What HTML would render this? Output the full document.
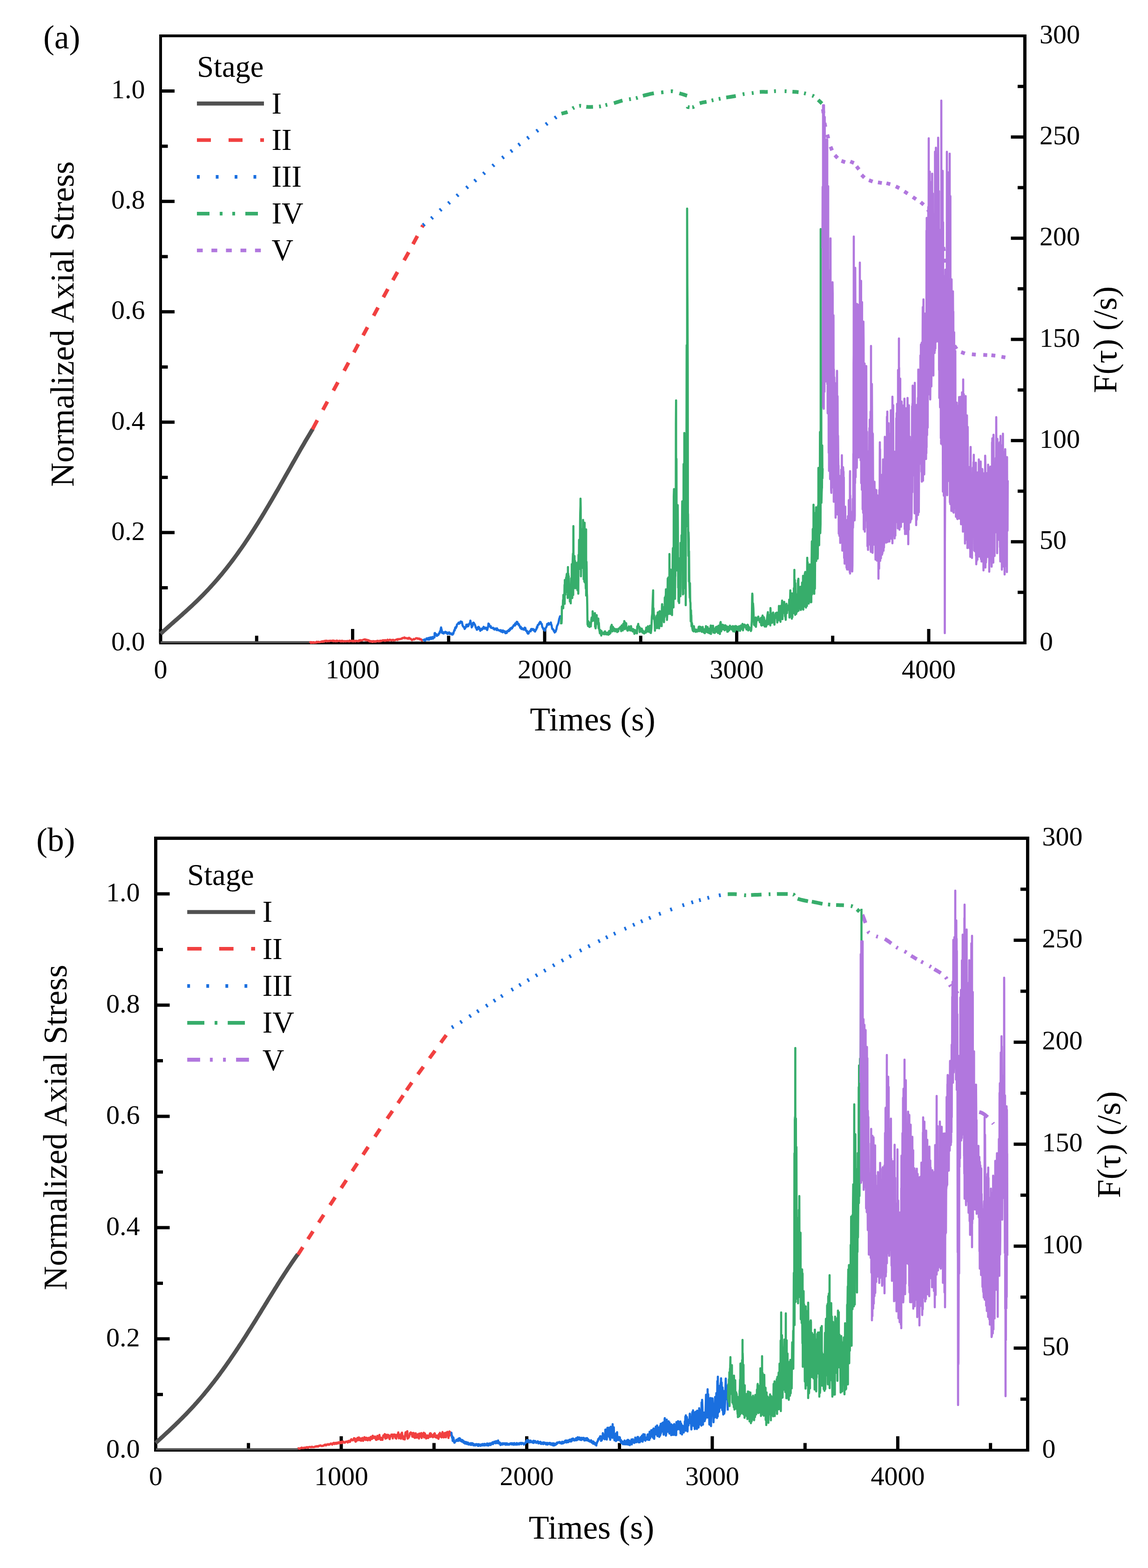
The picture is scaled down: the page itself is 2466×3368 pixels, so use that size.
<!DOCTYPE html>
<html><head><meta charset="utf-8"><title>Figure</title>
<style>html,body{margin:0;padding:0;background:#fff;}svg{display:block;}</style>
</head><body>
<svg xmlns="http://www.w3.org/2000/svg" width="2466" height="3368" viewBox="0 0 2466 3368">
<rect width="2466" height="3368" fill="#fff"/>
<g fill="#000"><rect x="341.5" y="1351" width="7" height="30"/><rect x="547.8" y="1365.5" width="7" height="15.5"/><rect x="754" y="1351" width="7" height="30"/><rect x="960.2" y="1365.5" width="7" height="15.5"/><rect x="1166.5" y="1351" width="7" height="30"/><rect x="1372.8" y="1365.5" width="7" height="15.5"/><rect x="1579" y="1351" width="7" height="30"/><rect x="1785.2" y="1365.5" width="7" height="15.5"/><rect x="1991.5" y="1351" width="7" height="30"/><rect x="345" y="1259" width="15.5" height="7"/><rect x="345" y="1140.4" width="30" height="7"/><rect x="345" y="1021.9" width="15.5" height="7"/><rect x="345" y="903.3" width="30" height="7"/><rect x="345" y="784.8" width="15.5" height="7"/><rect x="345" y="666.2" width="30" height="7"/><rect x="345" y="547.7" width="15.5" height="7"/><rect x="345" y="429.1" width="30" height="7"/><rect x="345" y="310.6" width="15.5" height="7"/><rect x="345" y="192" width="30" height="7"/><rect x="2186" y="1268.8" width="15.5" height="7"/><rect x="2171.5" y="1160.2" width="30" height="7"/><rect x="2186" y="1051.5" width="15.5" height="7"/><rect x="2171.5" y="942.8" width="30" height="7"/><rect x="2186" y="834.2" width="15.5" height="7"/><rect x="2171.5" y="725.5" width="30" height="7"/><rect x="2186" y="616.8" width="15.5" height="7"/><rect x="2171.5" y="508.2" width="30" height="7"/><rect x="2186" y="399.5" width="15.5" height="7"/><rect x="2171.5" y="290.8" width="30" height="7"/><rect x="2186" y="182.2" width="15.5" height="7"/><rect x="342" y="74" width="6" height="1310"/><rect x="2198" y="74" width="7" height="1310"/><rect x="342" y="74" width="1863" height="6"/><rect x="342" y="1378" width="1863" height="6"/></g>
<g font-family="Liberation Serif, Times New Roman, serif" font-size="58" fill="#000"><text x="345" y="1456.5" text-anchor="middle">0</text><text x="757.5" y="1456.5" text-anchor="middle">1000</text><text x="1170" y="1456.5" text-anchor="middle">2000</text><text x="1582.5" y="1456.5" text-anchor="middle">3000</text><text x="1995" y="1456.5" text-anchor="middle">4000</text><text x="311.5" y="1396.7" text-anchor="end">0.0</text><text x="311.5" y="1159.6" text-anchor="end">0.2</text><text x="311.5" y="922.5" text-anchor="end">0.4</text><text x="311.5" y="685.4" text-anchor="end">0.6</text><text x="311.5" y="448.3" text-anchor="end">0.8</text><text x="311.5" y="211.2" text-anchor="end">1.0</text><text x="2233" y="1396.7">0</text><text x="2233" y="1179.4">50</text><text x="2233" y="962">100</text><text x="2233" y="744.7">150</text><text x="2233" y="527.4">200</text><text x="2233" y="310">250</text><text x="2233" y="92.7">300</text></g>
<g font-family="Liberation Serif, Times New Roman, serif" font-size="71.5" fill="#000"><text x="1273" y="1569" text-anchor="middle">Times (s)</text><text transform="translate(157.5 695.9) rotate(-90)" text-anchor="middle">Normalized Axial Stress</text><text transform="translate(2398 729.5) rotate(-90)" text-anchor="middle">F(&#964;) (/s)</text><text x="93" y="104">(a)</text></g>
<g font-family="Liberation Serif, Times New Roman, serif" font-size="64.5" fill="#000"><text x="423.2" y="165">Stage</text><text x="583.5" y="244">I</text><text x="583.5" y="322">II</text><text x="583.5" y="400.8">III</text><text x="583.5" y="480">IV</text><text x="583.5" y="559">V</text></g>
<line x1="423" y1="222.4" x2="567" y2="222.4" stroke="#515151" stroke-width="8.6"/>
<line x1="423" y1="300.8" x2="567" y2="300.8" stroke="#F14040" stroke-width="7.8" stroke-dasharray="30 38"/>
<line x1="423" y1="379.9" x2="567" y2="379.9" stroke="#1A6FDF" stroke-width="7.8" stroke-dasharray="6 34.5"/>
<line x1="423" y1="458.9" x2="567" y2="458.9" stroke="#37AD6B" stroke-width="7.8" stroke-dasharray="27 22 6 21 6 22"/>
<line x1="423" y1="537.8" x2="567" y2="537.8" stroke="#B177DE" stroke-width="7.8" stroke-dasharray="12.5 18.7"/>
<g fill="#000"><rect x="331" y="3085" width="7" height="30"/><rect x="530.2" y="3099.5" width="7" height="15.5"/><rect x="729.5" y="3085" width="7" height="30"/><rect x="928.8" y="3099.5" width="7" height="15.5"/><rect x="1128" y="3085" width="7" height="30"/><rect x="1327.2" y="3099.5" width="7" height="15.5"/><rect x="1526.5" y="3085" width="7" height="30"/><rect x="1725.8" y="3099.5" width="7" height="15.5"/><rect x="1925" y="3085" width="7" height="30"/><rect x="2124.2" y="3099.5" width="7" height="15.5"/><rect x="334.5" y="2991.8" width="15.5" height="7"/><rect x="334.5" y="2872.3" width="30" height="7"/><rect x="334.5" y="2752.9" width="15.5" height="7"/><rect x="334.5" y="2633.4" width="30" height="7"/><rect x="334.5" y="2513.9" width="15.5" height="7"/><rect x="334.5" y="2394.4" width="30" height="7"/><rect x="334.5" y="2274.9" width="15.5" height="7"/><rect x="334.5" y="2155.5" width="30" height="7"/><rect x="334.5" y="2036" width="15.5" height="7"/><rect x="334.5" y="1916.5" width="30" height="7"/><rect x="2192" y="3001.8" width="15.5" height="7"/><rect x="2177.5" y="2892.2" width="30" height="7"/><rect x="2192" y="2782.7" width="15.5" height="7"/><rect x="2177.5" y="2673.2" width="30" height="7"/><rect x="2192" y="2563.7" width="15.5" height="7"/><rect x="2177.5" y="2454.2" width="30" height="7"/><rect x="2192" y="2344.6" width="15.5" height="7"/><rect x="2177.5" y="2235.1" width="30" height="7"/><rect x="2192" y="2125.6" width="15.5" height="7"/><rect x="2177.5" y="2016.1" width="30" height="7"/><rect x="2192" y="1906.5" width="15.5" height="7"/><rect x="331" y="1797" width="7" height="1321"/><rect x="2204" y="1797" width="7" height="1321"/><rect x="331" y="1797" width="1880" height="7"/><rect x="331" y="3112" width="1880" height="6"/></g>
<g font-family="Liberation Serif, Times New Roman, serif" font-size="58" fill="#000"><text x="334.5" y="3190" text-anchor="middle">0</text><text x="733" y="3190" text-anchor="middle">1000</text><text x="1131.5" y="3190" text-anchor="middle">2000</text><text x="1530" y="3190" text-anchor="middle">3000</text><text x="1928.5" y="3190" text-anchor="middle">4000</text><text x="300.5" y="3130.5" text-anchor="end">0.0</text><text x="300.5" y="2891.5" text-anchor="end">0.2</text><text x="300.5" y="2652.6" text-anchor="end">0.4</text><text x="300.5" y="2413.6" text-anchor="end">0.6</text><text x="300.5" y="2174.7" text-anchor="end">0.8</text><text x="300.5" y="1935.7" text-anchor="end">1.0</text><text x="2238.5" y="3130.5">0</text><text x="2238.5" y="2911.4">50</text><text x="2238.5" y="2692.4">100</text><text x="2238.5" y="2473.3">150</text><text x="2238.5" y="2254.3">200</text><text x="2238.5" y="2035.3">250</text><text x="2238.5" y="1816.2">300</text></g>
<g font-family="Liberation Serif, Times New Roman, serif" font-size="71.5" fill="#000"><text x="1270.5" y="3305.3" text-anchor="middle">Times (s)</text><text transform="translate(143 2421.7) rotate(-90)" text-anchor="middle">Normalized Axial Stress</text><text transform="translate(2405.8 2458.5) rotate(-90)" text-anchor="middle">F(&#964;) (/s)</text><text x="78" y="1827.6">(b)</text></g>
<g font-family="Liberation Serif, Times New Roman, serif" font-size="64.5" fill="#000"><text x="402.3" y="1900.7">Stage</text><text x="563.7" y="1979.8">I</text><text x="563.7" y="2059.7">II</text><text x="563.7" y="2139">III</text><text x="563.7" y="2218">IV</text><text x="563.7" y="2298.8">V</text></g>
<line x1="402.2" y1="1959" x2="548" y2="1959" stroke="#515151" stroke-width="8.6"/>
<line x1="402.2" y1="2037.9" x2="548" y2="2037.9" stroke="#F14040" stroke-width="7.8" stroke-dasharray="30.8 37.8"/>
<line x1="402.2" y1="2117.8" x2="548" y2="2117.8" stroke="#1A6FDF" stroke-width="7.8" stroke-dasharray="6 35"/>
<line x1="402.2" y1="2197" x2="548" y2="2197" stroke="#37AD6B" stroke-width="7.8" stroke-dasharray="36.8 22 6 22.2"/>
<line x1="402.2" y1="2276.3" x2="548" y2="2276.3" stroke="#B177DE" stroke-width="8.4" stroke-dasharray="27.7 21 6 22.2 6 22"/>
<polyline points="345,1361.4 348.3,1358.4 351.5,1355.4 354.8,1352.4 358.1,1349.5 361.4,1346.6 364.6,1343.7 367.9,1340.8 371.2,1337.9 374.4,1335 377.7,1332.1 381,1329.3 384.2,1326.4 387.5,1323.5 390.8,1320.6 394.1,1317.6 397.3,1314.7 400.6,1311.7 403.9,1308.8 407.1,1305.8 410.4,1302.7 413.7,1299.7 416.9,1296.6 420.2,1293.5 423.5,1290.3 426.8,1287.1 430,1283.9 433.3,1280.6 436.6,1277.3 439.8,1273.9 443.1,1270.5 446.4,1267.1 449.6,1263.6 452.9,1260 456.2,1256.4 459.4,1252.8 462.7,1249.1 466,1245.3 469.3,1241.5 472.5,1237.7 475.8,1233.8 479.1,1229.8 482.3,1225.8 485.6,1221.7 488.9,1217.5 492.1,1213.3 495.4,1209.1 498.7,1204.8 502,1200.4 505.2,1196 508.5,1191.5 511.8,1186.9 515,1182.3 518.3,1177.7 521.6,1173 524.9,1168.2 528.1,1163.4 531.4,1158.5 534.7,1153.5 537.9,1148.6 541.2,1143.5 544.5,1138.4 547.7,1133.3 551,1128.1 554.3,1122.9 557.5,1117.6 560.8,1112.3 564.1,1106.9 567.4,1101.5 570.6,1096.1 573.9,1090.6 577.2,1085.1 580.4,1079.5 583.7,1074 587,1068.3 590.2,1062.7 593.5,1057 596.8,1051.4 600.1,1045.6 603.3,1039.9 606.6,1034.2 609.9,1028.4 613.1,1022.7 616.4,1016.9 619.7,1011.1 623,1005.4 626.2,999.6 629.5,993.8 632.8,988.1 636,982.3 639.3,976.6 642.6,970.9 645.8,965.2 649.1,959.5 652.4,953.9 655.6,948.3 658.9,942.7 662.2,937.2 665.5,931.7 668.7,926.3 672,921" fill="none" stroke="#515151" stroke-width="8.8" stroke-linejoin="round"/>
<g stroke="#F14040" stroke-width="8"><line x1="671.2" y1="922.1" x2="681.6" y2="902.7"/><line x1="693.7" y1="880.3" x2="703.3" y2="862.7"/><line x1="716.2" y1="838.8" x2="725.8" y2="821.2"/><line x1="739.3" y1="796.4" x2="748.7" y2="778.8"/><line x1="760.3" y1="756.8" x2="769.7" y2="739.2"/><line x1="780" y1="720.4" x2="789.4" y2="702.8"/><line x1="802.6" y1="678.2" x2="812" y2="660.6"/><line x1="823.5" y1="638.5" x2="833.1" y2="620.9"/><line x1="844" y1="601.7" x2="853.8" y2="584.3"/><line x1="868.1" y1="559.1" x2="877.9" y2="541.7"/><line x1="887.2" y1="524.4" x2="896.6" y2="506.8"/><line x1="906.3" y1="488.2" x2="908.7" y2="483.8"/></g>
<g stroke="#1A6FDF" stroke-width="8"><line x1="908.8" y1="483.9" x2="911.8" y2="481.3"/><line x1="926.5" y1="469.3" x2="929.5" y2="466.7"/><line x1="945" y1="452" x2="948" y2="449.4"/><line x1="963.1" y1="437.1" x2="966.1" y2="434.5"/><line x1="981.3" y1="420.8" x2="984.3" y2="418.2"/><line x1="1002" y1="403.7" x2="1005" y2="401.1"/><line x1="1019.4" y1="389.2" x2="1022.4" y2="386.6"/><line x1="1038.3" y1="373.6" x2="1041.3" y2="371"/><line x1="1058.3" y1="356.5" x2="1061.3" y2="353.9"/><line x1="1078.9" y1="339.3" x2="1082.1" y2="336.9"/><line x1="1097.1" y1="325.5" x2="1100.3" y2="323.1"/><line x1="1113.8" y1="311.7" x2="1117" y2="309.3"/><line x1="1132.7" y1="297.2" x2="1135.9" y2="294.8"/><line x1="1152.6" y1="282" x2="1155.8" y2="279.6"/><line x1="1172.6" y1="267.4" x2="1175.8" y2="265"/><line x1="1191.9" y1="253.6" x2="1195.1" y2="251.2"/></g>
<polyline points="1205,244.5 1208.4,243.5 1212.7,242.3 1216.3,241.5 1220.4,240 1223.8,237.6 1227.6,234.5 1231.8,231.8 1236.5,229.7 1241.4,228.1 1246.3,227.2 1250.7,227.5 1255.1,228.6 1259.5,229.5 1264.2,229.7 1269.1,229.7 1274,229.5 1279,229.4 1284.1,229.1 1289,228.6 1293.6,227.7 1298,226.6 1302.6,225.4 1307.3,224.4 1312.1,223.4 1317.6,222 1321.5,220.8 1325.8,219.4 1330.3,218 1334.6,216.6 1338.5,215.5 1343.9,214.4 1348.6,213.7 1353.3,213 1358.3,212.2 1363.3,211.4 1368,210.4 1371.8,209.1 1375.2,207.7 1380.2,206 1383.8,205 1388,204 1392.6,202.8 1397.3,201.7 1401.7,200.8 1405.6,200 1410.4,199.3 1414.5,198.9 1418.5,198.7 1422.8,198.3 1426.8,197.8 1431,197.1 1435.3,196.5 1439.5,196.1 1443.3,196 1448.6,196.8 1453.2,198.3 1458.3,200 1462.2,201.2 1466.6,202.5 1470.9,203.9 1474.7,205.2 1477.4,206 1477.5,230 1482.4,230.5 1489,230 1493.2,227.8 1497.6,224.6 1502.3,222 1506.3,220.8 1510.5,219.9 1514.8,219.2 1518.6,218.5 1522.8,217.4 1526.5,216.4 1530.6,215.4 1535.5,214.3 1540.7,213.2 1545.8,212.2 1550.2,211.3 1554.4,210.4 1559.5,209.5 1563.4,208.9 1567.9,208.2 1572.5,207.5 1577.1,206.7 1581.2,206 1585.5,205 1589.4,204 1593.2,203 1597.3,202.1 1602,201.4 1607.1,200.9 1612.1,200.3 1616.8,199.8 1622.1,199 1626.9,198.1 1632,197.5 1636.2,197.3 1640.6,197.3 1645.1,197.4 1649.3,197.3 1654.3,196.8 1659.2,196.2 1664.8,195.8 1669,195.7 1673.8,195.7 1678.7,195.7 1683.4,195.8 1687.5,195.9 1693,196.2 1697.5,196.6 1702,197 1706.6,197.3 1711.1,197.6 1715.6,198 1719.9,198.6 1724.2,199.5 1729,200.6 1733.3,201.7 1738.1,203 1742.7,204.5 1746.5,205.9 1750.8,208.5 1754.7,212 1758,215.1 1762,218.9 1765.7,222.5 1768.3,225" fill="none" stroke="#37AD6B" stroke-width="8" stroke-linejoin="round" stroke-dasharray="0 1.1 13.7 13.2 4 11.3 4 11.5 14.4 13 4 10.1 4 14.6 19.3 14.4 4 10.9 4 11.9 24.2 15.7 5 15.9 4.5 14.6 17.4 25.2 4 6 4 14.1 15.1 11.2 4 11.6 4 12.5 20.8 15.2 4 15.7 4 13.4 17.2 13.6 4 18.7 4.1 12.7 13.2 12 4 14.3 4 12 11.2 10000"/>
<g stroke="#B177DE" stroke-width="8"><line x1="1767.8" y1="234.6" x2="1768.8" y2="243"/><line x1="1771.3" y1="264.1" x2="1772.9" y2="272.5"/><line x1="1777.1" y1="289.1" x2="1779.3" y2="297.3"/><line x1="1784.1" y1="315.1" x2="1787.3" y2="322.9"/><line x1="1793.4" y1="333.3" x2="1799.2" y2="339.5"/><line x1="1807.5" y1="345.6" x2="1815.5" y2="348.4"/><line x1="1826.5" y1="346.8" x2="1834.3" y2="350.2"/><line x1="1839.9" y1="357.2" x2="1845.1" y2="364"/><line x1="1850.8" y1="375.7" x2="1856.8" y2="381.7"/><line x1="1866.5" y1="387.1" x2="1874.5" y2="390.1"/><line x1="1885.9" y1="391.7" x2="1894.3" y2="393.1"/><line x1="1904.2" y1="393.5" x2="1912.4" y2="395.7"/><line x1="1924.2" y1="400.3" x2="1931.8" y2="404.1"/><line x1="1942.5" y1="411.2" x2="1949.7" y2="415.8"/><line x1="1960.8" y1="423.2" x2="1967.8" y2="428"/><line x1="1977.7" y1="434.2" x2="1984.1" y2="439.8"/><line x1="1993" y1="450.1" x2="1997.6" y2="457.1"/><line x1="2006.2" y1="474.1" x2="2009.8" y2="481.9"/><line x1="2017.7" y1="501" x2="2020.3" y2="509"/><line x1="2026.2" y1="530.8" x2="2027.8" y2="539.2"/><line x1="2029.3" y1="555.8" x2="2029.7" y2="564.2"/><line x1="2029.5" y1="593.8" x2="2029.5" y2="602.2"/><line x1="2029.5" y1="622.8" x2="2029.5" y2="631.2"/><line x1="2029.5" y1="650.8" x2="2029.5" y2="659.2"/><line x1="2029.4" y1="680.8" x2="2030.6" y2="689.2"/><line x1="2035.5" y1="708" x2="2038.5" y2="716"/><line x1="2050.1" y1="742.5" x2="2054.9" y2="749.5"/><line x1="2064.6" y1="756.3" x2="2072.6" y2="759.3"/><line x1="2087.7" y1="761" x2="2096.1" y2="761.8"/><line x1="2112.2" y1="762.3" x2="2120.6" y2="762.7"/><line x1="2129.6" y1="763" x2="2138" y2="764"/><line x1="2151.2" y1="766.4" x2="2159.6" y2="767.8"/></g>
<polyline points="345,1379.5 665.4,1379.5" fill="none" stroke="#515151" stroke-width="4.6" stroke-linejoin="round"/>
<polyline points="665.4,1381.2 666.3,1379.5 667.1,1379.2 668,1381.1 668.8,1379.5 669.7,1379.3 670.6,1380.3 671.4,1379.6 672.3,1380.7 673.1,1379.3 674,1380.7 674.8,1379.4 675.7,1379.9 676.6,1380.5 677.4,1379.9 678.3,1380.4 679.1,1379.9 680,1378.5 680.9,1380.1 681.7,1379.4 682.6,1378.7 683.4,1378.4 684.3,1379.6 685.1,1378.9 686,1379.5 686.9,1379.1 687.7,1379.4 688.6,1378.5 689.4,1378.6 690.3,1378.4 691.1,1377.6 692,1378.8 692.9,1377.5 693.7,1378.3 694.6,1378.5 695.4,1377.8 696.3,1376.7 697.1,1378 698,1377.5 698.9,1376.5 699.7,1376.2 700.6,1377.1 701.4,1376.1 702.3,1377.8 703.2,1376.9 704,1376.9 704.9,1376.6 705.7,1377 706.6,1377.5 707.4,1376.2 708.3,1376.3 709.2,1376.7 710,1376.1 710.9,1376.6 711.7,1376.4 712.6,1376.2 713.5,1376.7 714.3,1376.4 715.2,1375.6 716.1,1377.5 716.9,1376.2 717.8,1376.4 718.7,1376.4 719.5,1377.5 720.4,1377.6 721.3,1376.8 722.1,1376.6 723,1376 723.9,1377.6 724.7,1376.2 725.6,1377 726.5,1376.7 727.3,1376.7 728.2,1376.8 729.1,1376.5 729.9,1376.2 730.8,1377.3 731.6,1377.8 732.5,1377.5 733.3,1376.6 734.1,1377.5 735,1376.2 735.8,1376.9 736.6,1377.7 737.5,1377.9 738.3,1377 739.1,1377.7 740,1377 740.8,1377 741.7,1377.1 742.5,1377.9 743.3,1377.4 744.2,1376.9 745,1377.4 745.8,1377.2 746.7,1376.6 747.5,1377.4 748.3,1377.5 749.2,1377 750,1377.7 750.9,1375.9 751.7,1376.8 752.5,1377.1 753.4,1376.6 754.2,1376.2 755.1,1377.3 756,1376.8 756.8,1376.5 757.6,1376.1 758.5,1377.9 759.4,1376.7 760.2,1376.3 761,1376.5 761.9,1376.6 762.8,1377.8 763.6,1376.5 764.5,1376.7 765.3,1376.4 766.1,1377.1 767,1376.6 767.9,1376.7 768.7,1377.3 769.6,1377.5 770.5,1377.2 771.3,1375.4 772.2,1375.9 773.1,1376.7 773.9,1374.9 774.8,1375.1 775.7,1375.5 776.6,1375.1 777.4,1375.7 778.3,1375.4 779.2,1374.8 780,1374.2 780.9,1374 781.8,1373.9 782.6,1373.3 783.5,1374.3 784.4,1373.5 785.2,1375.2 786.1,1375 786.9,1374 787.8,1375.2 788.6,1375.6 789.5,1374.7 790.3,1375.8 791.2,1375.2 792.1,1376.9 792.9,1375.6 793.8,1377.1 794.6,1378 795.5,1378 796.3,1377 797.2,1377.8 798,1377.2 798.9,1377.9 799.7,1378.9 800.6,1378.7 801.4,1377 802.2,1377.7 803.1,1378.1 803.9,1377.1 804.8,1378.3 805.6,1378.4 806.4,1377.6 807.3,1377.2 808.1,1378.1 808.9,1377.3 809.8,1376.6 810.6,1376.7 811.4,1376.4 812.3,1377.7 813.1,1376.9 813.9,1377.2 814.8,1377.4 815.6,1377.6 816.5,1376 817.3,1376.3 818.1,1377.2 819,1376.9 819.8,1376.1 820.6,1376.5 821.5,1375.5 822.3,1375.4 823.2,1375.1 824,1375.6 824.9,1375.3 825.7,1375.7 826.6,1376.5 827.4,1374.8 828.3,1375.5 829.1,1376.1 830,1375.5 830.8,1375.2 831.7,1375.6 832.5,1374 833.4,1375.9 834.2,1375.3 835.1,1375.5 835.9,1375.5 836.8,1374.1 837.6,1374 838.5,1374.2 839.4,1374.8 840.2,1375.6 841.1,1375.6 841.9,1374.5 842.8,1374.9 843.7,1375.1 844.5,1374.3 845.4,1375.5 846.2,1375.5 847.1,1375 847.9,1375.3 848.8,1375.1 849.7,1374.7 850.5,1373.9 851.4,1373.7 852.2,1373.5 853.1,1373 854,1374.7 854.8,1373.3 855.7,1372.6 856.6,1373.1 857.4,1372.6 858.3,1373.1 859.1,1372.8 860,1372.4 860.9,1372.5 861.8,1371.9 862.6,1371.4 863.5,1371.8 864.4,1370.4 865.2,1370.4 866.1,1370.6 867,1370.3 867.9,1369.4 868.8,1369.1 869.7,1371.2 870.6,1370.6 871.6,1370.3 872.5,1370.5 873.4,1371 874.3,1371.4 875.2,1370.9 876.1,1370.5 877,1372.1 877.9,1371.6 878.8,1369.9 879.7,1370.5 880.6,1371.9 881.5,1372.1 882.4,1372 883.3,1373.4 884.2,1374.3 885,1375.1 885.9,1374.2 886.7,1373.7 887.6,1373.8 888.4,1372.4 889.3,1373.5 890.1,1373.5 890.9,1373 891.8,1372.1 892.6,1371.7 893.5,1370.9 894.3,1370.8 895.2,1370.7 896,1371.1 896.9,1372 897.8,1371.1 898.6,1371.8 899.5,1372.4 900.4,1372.6 901.2,1371.6 902.1,1373.6 903,1373.2 903.9,1373 904.7,1373.3 905.6,1374.7 906.4,1375.6 907.3,1374.8 908.1,1375.4 909,1376" fill="none" stroke="#F14040" stroke-width="4.6" stroke-linejoin="round"/>
<polyline points="909.2,1372.4 909.9,1374.9 910.6,1374.9 911.2,1374.4 911.9,1373.5 912.6,1376.2 913.3,1376 914,1374.5 914.6,1374.2 915.3,1372.8 916,1371.5 916.7,1372.9 917.4,1373.6 918,1371.1 918.7,1374 919.4,1371.3 920.1,1371.1 920.8,1370.1 921.5,1374.2 922.1,1372.8 922.8,1373.3 923.5,1371.9 924.2,1369.2 924.9,1370.3 925.6,1370.9 926.3,1369 926.9,1372.5 927.6,1369.8 928.3,1368.7 929,1371.4 929.7,1368.2 930.5,1371.6 931.2,1369.3 931.9,1369.6 932.7,1368.6 933.4,1369 933.6,1359.9 934.3,1359.7 935.1,1363.7 935.8,1361.4 936.5,1364.2 937.2,1362.1 938,1365.8 938.7,1365.9 939.5,1364.9 940.3,1364.6 941,1363.4 941.8,1363.7 942.6,1360.6 943.3,1360.6 944,1360.6 944.8,1356.3 945.5,1357.9 946.2,1355.1 946.8,1350.5 947.5,1347.7 948.2,1351.1 949,1353.8 949.7,1359.6 950.4,1359.9 951.1,1357.9 951.8,1357.8 952.5,1360.1 953.1,1360.9 953.8,1358.3 954.5,1357.9 955.2,1357.7 955.9,1358.9 956.6,1357 957.3,1359 957.9,1359.1 958.6,1359.8 959.3,1358.2 960,1358.4 960.7,1359.3 961.4,1361.9 962.1,1359.4 962.8,1360.5 963.5,1359.3 964.3,1358.4 965,1358.3 965.7,1361.6 966.4,1361.5 967.1,1359.8 967.8,1361.2 968.6,1361.3 969.3,1362.4 970.1,1362.8 970.8,1360.5 971.6,1363.2 972.3,1363.2 973.1,1361.7 973.8,1361.2 974.6,1357.7 975.3,1355.5 976,1353.1 976.8,1354.1 977.5,1349.2 978.2,1347.6 978.9,1349.6 979.6,1348.2 980.2,1345.7 980.9,1346 981.6,1341.3 982.3,1340.9 983,1340.4 983.7,1340.2 984.4,1338.5 985.1,1337.3 985.8,1337.8 986.5,1339.6 987.2,1339.2 987.9,1337.8 988.6,1336.2 989.4,1334.8 990.1,1337.5 990.8,1335.2 991.5,1335.7 992.2,1335.8 993,1339.7 993.7,1343.7 994.5,1344.7 995.2,1346.3 995.9,1346.3 996.6,1346.7 997.3,1348.6 998.1,1351 998.8,1349.9 999.5,1349.2 1000.2,1346.3 1001,1346.8 1001.7,1341.7 1002.4,1344.6 1003.1,1345.8 1003.8,1341.6 1004.4,1344 1005.1,1344.2 1005.8,1345 1006.5,1343.8 1007.3,1340.6 1008.1,1339.5 1008.8,1340.2 1009.6,1338.2 1010.4,1333.1 1011.1,1336.2 1011.8,1339.5 1012.6,1342.4 1013.3,1347.6 1014.1,1344.1 1014.9,1345.1 1015.6,1342.1 1016.4,1337.6 1017.2,1337.3 1017.9,1337.8 1018.6,1340 1019.2,1340.2 1019.9,1341.4 1020.6,1343 1021.3,1345.3 1022,1348.2 1022.6,1348.9 1023.3,1348.2 1024,1352.5 1024.7,1352.7 1025.4,1351.7 1026.1,1351.3 1026.7,1347.3 1027.4,1348.7 1028.1,1346.4 1028.8,1349 1029.5,1347.9 1030.2,1351.9 1031,1351.4 1031.7,1355 1032.4,1352.7 1033.1,1350.8 1033.8,1351.8 1034.5,1350.8 1035.2,1352.8 1036,1349.5 1036.7,1349.8 1037.4,1349.4 1038.1,1350.5 1038.8,1346.2 1039.5,1347.7 1040.2,1347.7 1040.9,1349.1 1041.6,1350.5 1042.3,1348 1043,1350.1 1043.7,1349.8 1044.4,1350.3 1045.1,1348.5 1045.8,1352.2 1046.5,1353.3 1047.2,1351 1047.9,1347.3 1048.5,1346.7 1049.2,1339.3 1049.9,1340 1050.7,1340.9 1051.4,1345 1052.1,1345.6 1052.8,1345.1 1053.5,1346.8 1054.3,1345 1055,1348.6 1055.7,1348.1 1056.4,1348.8 1057.1,1348.7 1057.9,1349.1 1058.6,1348.7 1059.3,1348.3 1060,1350.4 1060.7,1349.7 1061.4,1351.7 1062.1,1352.3 1062.7,1352 1063.4,1350.9 1064.1,1350 1064.8,1350.7 1065.5,1351.2 1066.2,1351.9 1066.8,1353.4 1067.5,1349.6 1068.2,1351.4 1068.9,1351.6 1069.6,1352.8 1070.2,1353.9 1070.9,1353.7 1071.6,1353.3 1072.3,1354.2 1073,1354 1073.6,1355.2 1074.3,1354.7 1075,1355 1075.7,1353.3 1076.3,1356.6 1077,1354.5 1077.7,1355.8 1078.3,1356.9 1079,1357.8 1079.7,1358.2 1080.3,1354.1 1081,1355.7 1081.7,1355.9 1082.3,1356.5 1083,1355.7 1083.7,1357.8 1084.3,1355.9 1085,1357.2 1085.7,1360.2 1086.3,1359.6 1087,1358.6 1087.7,1356.5 1088.4,1359.7 1089.1,1358 1089.8,1355.3 1090.4,1355.3 1091.1,1356.1 1091.8,1355.7 1092.5,1353.3 1093.2,1355.8 1093.9,1352.5 1094.6,1351.7 1095.2,1353.7 1095.9,1350.1 1096.6,1351.9 1097.3,1349.2 1098,1350.4 1098.7,1348.4 1099.3,1348.1 1100,1349.9 1100.7,1347.2 1101.3,1346.4 1102,1346.5 1102.7,1344.4 1103.3,1343.2 1104,1343.5 1104.7,1342.2 1105.5,1341.1 1106.2,1343.7 1106.9,1338.8 1107.7,1341.5 1108.4,1341.2 1109.1,1339.5 1109.9,1335.7 1110.6,1337 1111.3,1336 1111.9,1339.5 1112.6,1340.9 1113.3,1339.9 1114,1339.8 1114.7,1343.2 1115.3,1342.2 1116,1344.2 1116.7,1345.6 1117.3,1348.3 1118,1346.8 1118.7,1346.5 1119.3,1350.2 1120,1351.1 1120.7,1350.6 1121.3,1349.2 1122,1350.6 1122.7,1351.4 1123.3,1351.8 1124,1350.1 1124.7,1352.4 1125.3,1352.4 1126,1352.5 1126.7,1352.1 1127.3,1348.1 1128,1350.4 1128.7,1349.3 1129.4,1354.1 1130.1,1354.7 1130.8,1355.9 1131.4,1354.6 1132.1,1355.2 1132.8,1359.7 1133.5,1360 1134.2,1361.2 1134.9,1359.8 1135.6,1360.4 1136.3,1357.6 1137,1356.5 1137.7,1356.1 1138.5,1355.1 1139.2,1355.7 1139.9,1356.1 1140.6,1351.7 1141.3,1350.9 1142,1352.1 1142.7,1353 1143.3,1351.1 1144,1351.7 1144.7,1351.1 1145.3,1351.2 1146,1353.5 1146.7,1354.5 1147.3,1354.7 1148,1352.7 1148.7,1352.8 1149.3,1356.6 1150,1355.2 1150.7,1353.3 1151.3,1353.2 1152,1352 1152.7,1349.8 1153.3,1346.5 1154,1348.4 1154.7,1344.4 1155.3,1342.3 1156,1342.4 1156.7,1342.2 1157.4,1341.6 1158.1,1338.6 1158.8,1340 1159.4,1338.1 1160.1,1335.7 1160.8,1337.7 1161.5,1336.5 1162.2,1339.1 1163,1340.3 1163.8,1340.4 1164.5,1345 1165.2,1347.6 1166,1348.1 1166.8,1350.7 1167.5,1351.9 1168.3,1350.2 1169.1,1353.5 1169.8,1354.4 1170.6,1354.7 1171.3,1349.6 1171.9,1349.4 1172.6,1348.9 1173.3,1347.2 1174,1346.1 1174.7,1344 1175.3,1340.2 1176,1341.9 1176.7,1340 1177.5,1341.5 1178.2,1338.4 1178.9,1341.8 1179.7,1339.7 1180.4,1340.6 1181.1,1340.3 1181.8,1340.8 1182.6,1338.4 1183.3,1337.1 1184,1341.1 1184.8,1342.7 1185.5,1346.9 1186.3,1350.8 1187,1351.4 1187.8,1351.3 1188.5,1351.9 1189.3,1354.6 1190,1356.2 1190.8,1354.8 1191.5,1358.6 1192.3,1357.5 1193,1355.1 1193.6,1356.7 1194.3,1353 1195,1352.7 1195.7,1349 1196.3,1345.3 1197,1343.9 1197.7,1342.3 1198.4,1340.9 1199.1,1339.1 1199.8,1336.6 1200.4,1333.8 1201.1,1329.6 1201.8,1328 1202.5,1325.4 1203.2,1323.6 1204.1,1325.8 1205,1330" fill="none" stroke="#1A6FDF" stroke-width="4.6" stroke-linejoin="round"/>
<polyline points="1205,1341 1205.4,1335.3 1205.9,1325.7 1206.2,1338.9 1206.7,1328.8 1207,1302.7 1207.4,1303.2 1207.8,1306.1 1208.1,1303.7 1208.7,1304.5 1209.2,1294.5 1209.4,1288.5 1209.9,1306.5 1210.1,1277.9 1210.6,1281.8 1211.1,1277.9 1211.7,1290.7 1212.2,1284.6 1212.7,1256 1213,1297 1213.3,1245.8 1213.7,1263.1 1214.1,1268.4 1214.5,1277.2 1214.9,1261.4 1215.5,1253.6 1216,1240.7 1216.6,1251.2 1216.9,1237.7 1217.5,1232.9 1217.9,1244.6 1218.2,1235.5 1218.7,1272.3 1218.9,1231.8 1219.5,1284.5 1220,1218 1220,1260.6 1220.3,1269.8 1220.8,1232.4 1221.1,1251 1221.4,1245.6 1221.7,1237.5 1222.3,1262.9 1222.9,1276 1223.2,1261.4 1223.4,1283.3 1223.8,1263.8 1224.1,1292.1 1224.7,1280.8 1225.2,1258.8 1225.6,1277.9 1226,1296 1226,1272.4 1226.5,1269.2 1226.9,1242 1227.4,1265 1227.8,1273.5 1228.2,1211.8 1228.6,1240.2 1228.9,1249.2 1229.3,1284.6 1229.8,1215 1230,1211.4 1230.4,1198.7 1230.8,1189 1231.3,1277.9 1231.6,1180.6 1231.7,1130 1231.7,1130 1232.1,1244.2 1232.6,1199.3 1232.9,1232.6 1233.3,1234 1233.7,1244.8 1234.1,1194.2 1234.3,1219.1 1234.8,1249.3 1235.2,1204.8 1235.5,1263.5 1235.9,1222.9 1236.2,1254.2 1236.5,1213.3 1236.9,1211.5 1237.2,1252.7 1237.7,1209.1 1238.1,1261.2 1238.4,1237.1 1238.7,1215.2 1239.2,1264 1239.6,1215.1 1240,1215.1 1240.4,1267.7 1240.8,1216 1241.1,1250.6 1241.5,1244.8 1241.9,1206.1 1242.2,1275.3 1242.7,1191.8 1243.3,1223.3 1243.9,1159.5 1244.2,1172.9 1244.7,1172.3 1245.2,1214.5 1245.5,1218.7 1245.8,1162.4 1246.1,1122.2 1246.4,1101.5 1246.9,1086.6 1247,1071 1247,1071 1247.4,1090.8 1247.9,1237.9 1248.4,1212.7 1248.7,1136.3 1249.2,1176.5 1249.7,1148.6 1250.1,1203 1250.6,1171.9 1251.1,1191.3 1251.4,1166.9 1252,1219.9 1252.5,1116.9 1253,1132.7 1253.3,1161 1253.8,1244.2 1254.1,1214.9 1254.6,1195 1255,1147.1 1255.2,1249.2 1255.5,1240.6 1255.8,1122.7 1256.3,1251 1256.7,1222.1 1257.1,1220 1257.6,1189.4 1257.9,1250.9 1258.3,1264.3 1258.7,1178.5 1259,1137 1259.1,1279.3 1259.4,1243.9 1259.9,1206.8 1260.2,1221 1260.7,1273.9 1261.1,1280.1 1261.5,1300 1262,1341.2 1262.5,1339.8 1263.1,1344.6 1263.8,1334.3 1264.7,1337.1 1265.3,1340.8 1266,1346.8 1266.5,1346.8 1267.5,1338.4 1268.5,1337.4 1269.1,1345.5 1269.9,1333.8 1270.9,1326.2 1271.4,1332.8 1272.3,1333.9 1272.9,1333.8 1273,1313 1273.4,1315.8 1274.4,1331.2 1275,1318 1275.8,1319.6 1276.8,1333.7 1277.5,1330.8 1278,1317 1278.3,1346.3 1278.9,1324.3 1279.4,1349.7 1280.2,1342 1281,1336.2 1281.7,1321.3 1282.3,1338.1 1282.9,1332.4 1283.5,1339.8 1284.4,1340.6 1285.2,1328.6 1285.8,1349.4 1286.4,1337.8 1287.2,1351.7 1287.9,1355.5 1288.6,1360.4 1289.5,1353.3 1290.6,1357.9 1291.6,1365.2 1292.2,1355.6 1293.2,1360.9 1294.2,1358.8 1295.2,1361.5 1295.8,1360.1 1296.3,1360.5 1297.4,1360.6 1297.8,1362.5 1298.4,1357.3 1299.1,1360.5 1299.6,1356.1 1300.3,1360.9 1300.8,1362 1301.4,1358.6 1301.9,1362.4 1302.7,1361.5 1303.8,1362.6 1304.6,1359.5 1305.3,1358.7 1306,1362.8 1306.8,1363.4 1307.5,1361.4 1308.5,1355.2 1309.3,1362 1309.9,1359.3 1310.5,1358.9 1311.5,1359.3 1312,1347.4 1312.8,1344.8 1313.5,1344.8 1314,1342 1314.3,1346 1315.3,1351.7 1315.8,1356.3 1316.8,1346.5 1317.8,1354.8 1318.7,1349.5 1319.5,1350.1 1320.3,1352.3 1321.2,1356.1 1322.2,1351.4 1322.7,1351.9 1323.8,1353.8 1324.3,1352.1 1324.8,1351.4 1325.7,1357.6 1326.3,1353.3 1327.1,1352.2 1328.1,1356.2 1328.6,1350.3 1329,1350.5 1329.6,1350.9 1330.5,1349.5 1331.3,1348.5 1331.9,1349.9 1332.6,1346.7 1333.5,1350.7 1334.3,1355.7 1334.8,1347.9 1335.5,1343.4 1336.4,1353.1 1337,1343 1337.8,1354.3 1338.8,1339.9 1339.3,1344.3 1340,1339.2 1340.7,1348.8 1341,1334 1341.4,1334.9 1342,1351.5 1342.8,1337.2 1343.6,1346.4 1344.6,1340.4 1345.1,1338.6 1345.6,1350.4 1346.6,1348.6 1347.6,1354.4 1348.6,1354.6 1349.1,1348.6 1349.8,1348 1350.8,1345.5 1351.3,1352.7 1352.1,1350 1353,1350.4 1353.5,1354.3 1354.5,1352.9 1355.4,1344.7 1356.3,1349.4 1357.1,1354.7 1358.1,1353.6 1359.1,1356.3 1360.1,1351.2 1361,1356.1 1361.5,1352.6 1362.2,1354.4 1362.7,1361.5 1363.3,1353.7 1363.9,1353.1 1364.6,1357.3 1365.2,1356.8 1365.8,1358.5 1366.8,1359.9 1367.7,1356.7 1368.3,1360.4 1368.8,1345.6 1369.7,1346 1370.7,1341.5 1371,1340 1371.3,1347.7 1372,1348.4 1373.1,1345.9 1374.1,1357.6 1375,1348.7 1375.9,1350.3 1376.9,1356.1 1377.9,1355.5 1378.7,1350.3 1379.6,1358.3 1380.2,1358.6 1381.1,1354.6 1382.1,1359.9 1382.8,1359.2 1383.4,1360.2 1383.9,1360.7 1384.7,1357.1 1385.6,1358 1386.6,1354.6 1387.2,1359 1388.2,1348 1389.2,1350.7 1389.9,1356.8 1390.5,1355 1391.6,1345.4 1392.5,1356.7 1393.1,1354.5 1394.1,1356.9 1395.1,1348.6 1395.9,1344 1396.5,1351.4 1397.1,1359 1397.6,1355.2 1398.1,1359.8 1399.2,1350.3 1400.2,1325.1 1401.1,1318.3 1402.1,1290.5 1403,1268 1403,1308 1403.9,1306.4 1404.7,1329.8 1405.3,1321.5 1406,1335.2 1406.5,1342 1406.9,1354.6 1407.3,1341 1407.8,1343 1408.3,1345.4 1408.9,1330.1 1409.2,1335.5 1409.7,1346.5 1410.2,1324.6 1410.5,1324.2 1411,1322.2 1411.3,1349.1 1411.9,1322.5 1412.3,1348.6 1412.6,1328 1412.9,1315.5 1413.4,1343.9 1413.8,1337.4 1414.4,1315 1414.8,1325.1 1415.3,1318 1415.9,1349.6 1416.2,1325.4 1416.6,1325.5 1416.9,1312.8 1417.3,1345.2 1417.8,1336.4 1418.1,1328.6 1418.4,1340.4 1418.9,1317.7 1419.2,1313.6 1419.4,1333.6 1420,1319.5 1420.3,1330.4 1420.7,1341.9 1421.3,1344.9 1421.7,1310.6 1422.1,1298.3 1422.4,1297.7 1422.9,1312.2 1423.5,1322.8 1424,1303.9 1424.4,1320.3 1424.9,1322.9 1425.2,1304.3 1425.5,1317.8 1426.1,1334.4 1426.3,1336.5 1426.8,1321.6 1427.1,1315 1427.7,1325.4 1428,1283.6 1428.5,1322.2 1428.9,1306.4 1429.2,1312.4 1429.6,1280.1 1429.9,1289 1430.5,1265.8 1430.9,1288.9 1431.2,1303.9 1431.6,1269.6 1432.2,1309.6 1432.4,1294.6 1432.7,1331.6 1433.2,1323.2 1433.7,1297.1 1434.3,1242.8 1434.5,1312 1435.1,1262.8 1435.5,1240.5 1436,1271.7 1436.4,1318.7 1436.8,1312.3 1437.3,1249.8 1437.6,1245 1437.8,1315.5 1438,1190 1438,1190 1438.3,1266.5 1438.9,1247.1 1439.3,1313.1 1439.9,1318.7 1440.3,1223.4 1440.9,1230.4 1441.3,1254.9 1441.8,1313.8 1442.4,1242.1 1442.7,1257.3 1443.1,1303.1 1443.6,1321.2 1444.2,1243.3 1444.5,1228.2 1444.8,1222.9 1445.1,1191.8 1445.5,1177.2 1445.8,1302.6 1446.3,1191.1 1446.7,1304.8 1447,1225 1447.3,1066.9 1447.8,1050.5 1448.3,1202.8 1448.6,1077.1 1448.9,1124.3 1449.3,1132.2 1449.5,1272.8 1450,1286.2 1450.4,1239.9 1450.7,1237.1 1451.2,1139.8 1451.5,1202.6 1451.9,909.9 1452.3,860 1452.3,860 1452.3,1220 1452.7,1192.3 1453.1,985.6 1453.6,1225.1 1453.9,1161.6 1454.3,1164.9 1454.9,1131.3 1455.4,1095.4 1455.8,1085 1456.2,1132 1456.8,1262.4 1457.2,1218.9 1457.5,1292 1458,1279.4 1458.5,1283.9 1458.9,1295.3 1459.3,1199.2 1459.6,1234.9 1460.2,1269.3 1460.6,1219 1461.1,1277.2 1461.6,1280.8 1461.9,1166 1462.1,1169.6 1462.6,1195.8 1463.1,1192.8 1463.5,1221 1463.8,1149.8 1464.3,1150.4 1464.6,1178.6 1465,1133 1465.5,1076.8 1466,1131.8 1466.5,1263.2 1466.9,1276.8 1467.3,1253.2 1467.9,1275.6 1468.4,996.9 1468.8,1021 1469.1,1236.7 1469.3,1258.7 1469.6,1001.6 1469.9,1076.1 1470,930 1470,930 1470.2,1236.3 1470.6,1225.6 1471.2,1175.6 1471.6,1138.8 1472.1,1175.3 1472.4,1264.6 1473,1260.7 1473,1300 1473.4,1074.2 1473.8,945.3 1474.3,1029.3 1474.6,953 1475,741.5 1475.4,768.3 1476,851.1 1476,448 1476,448 1476.5,612.9 1476.8,655.5 1477.3,789.3 1477.7,1131.8 1478,1103.7 1478.5,1155.4 1478.8,1194.3 1479.1,1143.2 1479.6,1158.7 1479.8,1249 1480.1,1183.7 1480.7,1251.4 1481.2,1267.1 1481.7,1283.9 1482.1,1252.6 1482.6,1291.5 1483.2,1295.4 1483.7,1334.8 1484,1334.4 1484.4,1310.9 1484.7,1324 1485,1321.4 1485.5,1345.4 1486.1,1337.3 1486.4,1344.8 1486.7,1339.6 1487.3,1351.2 1487.6,1346.1 1488,1354.3 1489.1,1355.5 1489.9,1356.1 1490.6,1345 1491.2,1349.4 1491.9,1351.7 1492.7,1354.9 1493.6,1356.2 1494.2,1357.1 1494.9,1352.3 1495.9,1352.7 1496.4,1354.2 1497.5,1356.7 1498.3,1352.8 1499.2,1353.4 1500.1,1351.4 1500.9,1346.3 1501.8,1356 1502.3,1345.7 1503,1355.3 1504.1,1350.4 1505,1346.5 1505.6,1353.3 1506.6,1356.4 1507.6,1357.1 1508.4,1348.7 1509.5,1346.6 1510.3,1356.2 1510.8,1351.2 1511.6,1358.5 1512.6,1351.6 1513.5,1356.5 1514.1,1360.1 1514.8,1355.9 1515.5,1354 1516.5,1344.7 1517,1353.8 1517.6,1348.8 1518.7,1357.7 1519.6,1355.9 1520.1,1346.7 1520.7,1358.6 1521.5,1357.4 1522.2,1353.2 1522.9,1350.5 1523.6,1360.2 1524.1,1359.9 1524.8,1355.1 1525.8,1352.4 1526.7,1343.5 1527.2,1361.7 1527.8,1354.8 1528.6,1348.2 1529.2,1344.2 1529.7,1346.6 1530.3,1346 1530.8,1344.4 1531.7,1344.1 1532.5,1358.8 1533.6,1353.7 1534.1,1350.5 1534.9,1352.8 1535.4,1359.6 1536.2,1352.9 1536.8,1353 1537.7,1347.1 1538.4,1353.6 1539.1,1357.1 1539.7,1352.2 1540.2,1346 1541.1,1348.2 1541.6,1353.7 1542.3,1359.8 1543.4,1344.1 1544.2,1345 1544.7,1356.4 1545.5,1343.6 1546.4,1361.8 1547.2,1338.7 1548,1336 1548.2,1338 1549.2,1356 1549.9,1348.1 1550.9,1352.4 1552,1341.7 1552.7,1346.9 1553.8,1343.9 1554.4,1342.9 1555,1352.4 1556.1,1343.6 1556.7,1353.9 1557.6,1344.3 1558.4,1343.1 1559.4,1345.4 1560.2,1352.6 1560.9,1350.7 1561.7,1345.5 1562.3,1357 1563.2,1354 1564,1356.3 1564.9,1354 1565.6,1346.2 1566.3,1353.9 1567.4,1352 1568,1343.9 1569,1347.2 1569.6,1346.2 1570.4,1346 1571.1,1346.8 1572.1,1352.4 1572.9,1346.9 1574,1344.9 1574.9,1356.1 1575.8,1348.3 1576.3,1351.5 1577.3,1345.3 1578.3,1356.7 1579.2,1345.6 1580,1353.2 1580.5,1344.6 1581.5,1348.2 1582.2,1345.5 1583.2,1346.8 1584,1352.6 1584.6,1351.9 1585.3,1349.4 1585.8,1346.3 1586.5,1354.6 1587.1,1351.1 1587.8,1345 1588.4,1353.4 1589,1354 1589.9,1354.9 1590.4,1347.9 1591.3,1343.6 1592.1,1351.2 1593.1,1344.6 1593.9,1347.2 1594.9,1340.1 1596,1354 1596.6,1349.7 1597.2,1344.1 1597.7,1342.2 1598.5,1346.6 1599.2,1341.6 1600.1,1342.3 1601.1,1345.7 1602.2,1349.1 1602.8,1343.5 1603.6,1352.2 1604.5,1349.7 1605,1343.9 1605.8,1341.9 1606.6,1342.6 1607.2,1354.2 1608,1345.5 1609,1347.5 1609.5,1351.6 1610,1352.1 1611.1,1352.8 1612,1349.3 1612.5,1348.7 1613,1355.5 1613.8,1353.1 1614.9,1332.6 1615.7,1283.6 1616,1275 1616.3,1278.4 1616.8,1312 1617.6,1296.1 1618.3,1306.3 1619.2,1332.8 1619.7,1342.1 1620.4,1339.9 1621.1,1329 1621.8,1332.9 1622.3,1344.3 1623.2,1326.2 1623.8,1346.5 1624.4,1338.5 1625.1,1333.4 1625.8,1331 1626.7,1327.3 1627.6,1332 1628.3,1325.2 1628.9,1324.5 1629.6,1330.1 1630.4,1329.2 1631.1,1331 1632,1336.5 1632.8,1334 1633.6,1335.9 1634.4,1327.2 1634.9,1342.1 1635.9,1343.6 1636.9,1325.5 1637.5,1328.8 1638.1,1322 1638.7,1342.8 1639.1,1326.3 1639.7,1337.4 1640.8,1325.7 1641.7,1330 1642.6,1345.7 1643.5,1336.6 1644.5,1333.8 1645.5,1346 1646.6,1343 1647.4,1330.4 1648.4,1322 1649.5,1314.7 1650.2,1340.8 1650.8,1320.6 1651.8,1321.5 1652.5,1323.6 1653.4,1336.3 1654.3,1338.2 1654.7,1343.4 1655,1306 1655.5,1318.4 1656.1,1330.4 1657,1335.7 1657.8,1323.2 1658.5,1337.8 1659.4,1320.5 1659.9,1317.1 1660.8,1315.7 1661.8,1328.5 1662.7,1334.5 1663.5,1341.8 1664.2,1329 1665.2,1323.9 1666.2,1317 1667.3,1323.5 1668.1,1327.5 1668.7,1315.8 1669.6,1337.1 1670.2,1334.6 1671.1,1320 1671.7,1315.9 1672.5,1331.5 1673.2,1301.6 1673.8,1331.9 1674.6,1305.8 1675.6,1323.7 1676.5,1335.6 1677.2,1301.2 1678.1,1319.4 1678.9,1316.6 1679.7,1296.2 1680,1290 1680.8,1330 1681.7,1293.7 1682.6,1315.5 1683.3,1316.4 1684.1,1310.6 1684.6,1292.8 1685.2,1313.9 1685.8,1310.2 1686.3,1323.7 1687,1324.7 1687.8,1331.5 1688.6,1304 1689.4,1296.9 1690.4,1317 1691.2,1302.4 1692.2,1310.2 1693.1,1300.5 1693.8,1308.1 1694.6,1309.8 1695.3,1288 1695.9,1326.5 1696.9,1301.1 1697.7,1268 1697.8,1273.8 1698.7,1298.3 1699.8,1298.1 1700,1306.8 1700.4,1322.4 1700.9,1328.9 1701.3,1274.5 1701.6,1293.9 1702.1,1325.7 1702.4,1279.2 1702.8,1275.1 1703.1,1309.7 1703.4,1288.2 1704,1278.6 1704.5,1293.6 1705,1317 1705.3,1263.4 1705.8,1284.7 1706.1,1298.9 1706.4,1224 1706.4,1224 1706.4,1296.7 1707,1305.3 1707.5,1245.7 1707.8,1290.7 1708.2,1320.6 1708.6,1252.9 1708.9,1278 1709.1,1280.9 1709.7,1307.5 1710,1315 1710.4,1318.6 1710.7,1288.8 1711.2,1292.4 1711.6,1277.6 1711.9,1280.7 1712.2,1278.1 1712.8,1313.6 1713.2,1275.8 1713.5,1298.2 1714.1,1246.3 1714.4,1265.9 1714.9,1298.1 1715,1243 1715,1243 1715.4,1311.7 1715.8,1267 1716.2,1260.4 1716.5,1290.1 1717,1274.1 1717.4,1286.5 1718,1275.3 1718.3,1260.7 1718.6,1284.7 1718.9,1284.2 1719.3,1306.8 1719.8,1305.7 1720.3,1310.3 1720.8,1260.1 1721.2,1265.5 1721.5,1262.9 1721.9,1296 1722.5,1283.9 1722.9,1251.5 1723.2,1264.1 1723.5,1251 1723.9,1307.3 1724.5,1298 1725,1236.7 1725.5,1309.5 1725.7,1294.3 1726.1,1262.7 1726.7,1282 1727,1265.1 1727.3,1302.7 1727.7,1251.8 1728,1271.4 1728.5,1243.4 1728.9,1231.3 1729.2,1245.2 1729.7,1228.6 1730.1,1298.3 1730.3,1258.2 1730.7,1247.9 1730.9,1232.8 1731.3,1305.1 1731.6,1261.8 1732,1267.4 1732.3,1257.4 1732.9,1250.4 1733.4,1301.5 1734,1198 1734,1198 1734,1209.8 1734.5,1248.4 1734.9,1207.8 1735.2,1235.8 1735.6,1271.6 1736.1,1227.7 1736.4,1229.9 1736.8,1251.5 1737.2,1296.4 1737.7,1263.4 1738.2,1277.7 1738.7,1227 1739.2,1212.2 1739.5,1240.3 1739.9,1232.2 1740.3,1292.3 1740.6,1235 1740.9,1291.2 1741.3,1245.5 1741.7,1293.6 1742.2,1256.2 1742.7,1293.5 1743.3,1218.7 1743.9,1162.9 1744.4,1276.8 1744.8,1258.5 1745.3,1261.2 1745.6,1271.6 1745.9,1136.2 1746.5,1221.5 1747,1198 1747.4,1211.8 1747.5,1084 1747.5,1084 1747.9,1236.9 1748.2,1181.1 1748.5,1196.4 1749.1,1275.5 1749.4,1128.3 1749.6,1231.1 1750.2,1165.6 1750.5,1264.5 1750.8,1220.5 1751.3,1101.9 1751.9,1116.3 1752.4,1114.6 1753,1089.6 1753.3,1205 1753.6,1148.1 1754,1192.9 1754.5,1177.7 1754.9,1199.5 1755.3,1126 1755.7,1154.5 1756,1157.6 1756.4,1199.9 1756.8,1189.9 1757.3,1085.9 1757.6,1088.4 1757.9,1119.7 1758,1005 1758.4,1052 1758.9,1054.2 1759.3,1086.3 1759.6,1171.1 1760.1,1089.5 1760.6,1104.7 1761.1,1024.6 1761.4,927.9 1761.8,941.8 1762,1145.1 1762.6,1125.5 1762.9,1043.2 1762.9,492 1762.9,492 1763.2,658.3 1763.7,846 1764.1,820.8 1764.5,1080 1765,1059.4 1765.4,1049.3 1765.7,1048.1 1766.2,956.9 1766.6,1027.7 1767.1,1005.9" fill="none" stroke="#37AD6B" stroke-width="4.6" stroke-linejoin="round"/>
<polyline points="1766.7,533.3 1767.1,401.2 1767.5,444.8 1768,874.5 1768,226 1768.3,275.5 1768.7,311.9 1768.9,644.6 1769.2,592.7 1769.5,878.1 1769.8,763 1770,226 1770.2,422.1 1770.5,395.8 1770.7,527.7 1771,841.6 1771.4,753.1 1771.6,251.2 1772.1,695.8 1772.5,563.4 1772.9,741.7 1773.4,480.4 1773.8,351.9 1774.1,679.5 1774.3,776.4 1774.6,713 1774.9,819.3 1775,300 1775.3,699.8 1775.6,423.2 1775.9,710.3 1776.2,495.8 1776.5,317.4 1776.7,467.5 1777,300 1777.1,825.2 1777.5,722.4 1777.9,887.7 1778.1,850.7 1778.5,879.1 1778.9,450.5 1779,400 1779.4,849.9 1779.7,750.1 1780.1,972.7 1780.5,580.6 1780.9,1011.5 1781.4,1004.2 1781.7,732.6 1782.1,904.7 1782.5,789.8 1782.8,924.5 1783.1,1029 1783.3,708.3 1783.8,1004.5 1784,512 1784.3,894.1 1784.6,789.6 1785,875.4 1785.3,1051 1785.8,1058.7 1786.1,661.7 1786.3,733.8 1786.8,801.5 1787.2,1047.1 1787.5,1035.4 1787.9,983.2 1788.3,606.4 1788.7,630.6 1789,907.2 1789.4,916.4 1789.7,954 1789.9,968.1 1790.4,677.3 1790.8,923.8 1791,1077.8 1791.3,793.6 1791.8,993.7 1792.2,810.5 1792.5,867.5 1792.9,1000.4 1793.3,1032.9 1793.7,823 1794,1031.9 1794.5,886.4 1794.9,1111.9 1795.2,1052.6 1795.6,975 1796,896.7 1796.4,1027.3 1796.8,872.3 1797.2,1036 1797.6,833.7 1798,796.5 1798.5,995.2 1798.8,1104.9 1799.2,851 1799.6,954.1 1800,949.1 1800.2,935.9 1800.6,980.8 1800.9,998.8 1801.3,1000.4 1801.7,1146.3 1801.9,1064.2 1802.3,1119.1 1802.7,1021.9 1802.9,1066.9 1803.1,1151 1803.4,1107.4 1803.6,1133.2 1803.8,1079.1 1804.1,1046.4 1804.5,1131.3 1804.9,1166.2 1805.2,1128.5 1805.5,1158.3 1806,1113.8 1806.2,1058.5 1806.4,1077 1806.7,1069.9 1807.1,1008.8 1807.5,1012.2 1807.8,1126.7 1808.1,1074.7 1808.4,977.9 1808.9,1078.3 1809.2,1004.9 1809.4,1182.8 1809.7,1083.8 1810,1082.4 1810.4,1142.4 1810.7,1172 1811,1003.5 1811.3,1010.1 1811.7,1105.4 1812,1013.1 1812.3,1148.2 1812.6,1025.3 1813,1174.9 1813.3,1198.8 1813.6,1154.2 1813.9,1094.9 1814.3,1210.8 1814.7,1186.6 1815.1,1114.3 1815.4,1191.3 1815.6,1088.2 1815.9,1152.2 1816.2,1148.6 1816.6,1135 1816.8,1132.9 1817.1,1165.5 1817.4,1194.8 1817.8,1175.8 1818,1137.4 1818.4,1219.6 1818.7,1178.9 1819.1,1117.1 1819.5,1223.2 1819.9,1185 1820.2,1144.6 1820.6,1175.5 1821,1187.2 1821.3,1108.8 1821.6,1197.8 1822,1223.3 1822.4,1127.8 1822.8,1197.1 1823.2,1074.4 1823.4,1162.9 1823.7,1157.5 1824,1214.7 1824.4,1083.4 1824.6,1203.2 1825,1081.6 1825.4,1229.8 1825.8,1021.2 1826,1012 1826,1232 1826.3,1098.5 1826.5,1064.1 1826.7,1117 1827.2,1105.7 1827.4,1194.4 1827.9,1216.9 1828.2,1176.3 1828.5,1138.2 1828.7,1222.4 1829,1226 1829.2,1153.4 1829.6,1099.6 1829.8,1181.6 1830.1,1156.7 1830.4,1101 1830.7,1227.4 1831.1,1214.1 1831.5,1129.5 1831.9,1071.5 1832.3,1133.7 1832.7,1117 1833.1,974.2 1833.3,1090 1833.6,779.4 1833.8,761.8 1834,508 1834.2,1117.1 1834.6,1111.4 1834.8,830 1835.1,623.1 1835.4,997 1835.8,1117.7 1836.2,1107.5 1836.5,582.2 1836.8,1038.1 1837.1,575.3 1837.5,688.4 1837.7,817.6 1838,1024.9 1838.3,822.3 1838.6,941.8 1838.8,685.7 1839.2,701.7 1839.5,672.9 1839.8,816.5 1840.2,735.1 1840.5,1004.8 1840.7,967.6 1840.9,652.9 1841.2,719.7 1841.4,850.4 1841.9,780.8 1842.2,842.8 1842.4,948.2 1842.7,877.8 1843,654.5 1843.2,921 1843.5,950.1 1843.8,928.7 1844.1,982.7 1844.5,882.7 1845,742.1 1845.4,841.4 1845.8,971 1846.2,915.7 1846.6,716.6 1846.8,949.4 1847,564 1847,940.1 1847.2,876.4 1847.7,898.8 1848,857.2 1848.3,728.3 1848.6,988.7 1848.9,768.3 1849.4,787.8 1849.7,603.2 1849.9,1037.7 1850.3,916.5 1850.5,852.8 1851,873.9 1851.3,1052 1851.5,668.1 1851.8,649 1852,1013.7 1852.2,951 1852.4,1015.7 1852.8,999.7 1853,1094 1853.4,1060 1853.8,971.4 1854.1,1101.4 1854.4,1099.2 1854.7,690.9 1855.1,736 1855.4,1137.2 1855.7,957.7 1856,1017.4 1856.4,832.5 1856.9,1055.4 1857.2,780.8 1857.4,1132 1857.7,1142 1858.1,797.1 1858.4,1133.8 1858.6,1094.5 1858.9,1016.4 1859.2,1098.4 1859.4,881.5 1859.6,1118.3 1859.9,1050.4 1860.1,1031.2 1860.4,864.3 1860.8,786.2 1861.1,872 1861.5,1037.1 1861.9,948.5 1862.4,927.4 1862.8,1118.5 1863.2,1085.5 1863.4,1173.2 1863.7,1128 1864,1125.1 1864.3,972.8 1864.6,1181.1 1864.8,1166 1865.1,969.6 1865.6,1059.8 1865.8,1111.4 1866.1,1134.1 1866.3,1070.7 1866.7,1019.6 1867,1073.1 1867.2,1012.1 1867.5,919.3 1867.9,1169.6 1868.2,901.2 1868.6,1078.3 1868.9,942.1 1869.3,1029.6 1869.8,993.7 1870,884 1870.3,1181.6 1870.8,1185.4 1871,743 1871.1,1025.1 1871.6,1069.8 1871.8,1116.9 1872.1,1003.7 1872.4,922.2 1872.6,1096.7 1872.9,824.8 1873.3,902.9 1873.7,1090.6 1873.9,929.2 1874.3,1187.4 1874.5,1177.6 1874.9,931.7 1875.2,978.2 1875.4,1025 1875.9,1053.2 1876.3,1125.2 1876.5,1092.4 1876.8,1170 1877.1,1145.2 1877.4,1147.7 1877.7,1112.7 1878,1133.9 1878.5,1034.8 1879,1073.5 1879.3,1115.1 1879.7,1154.7 1880.1,1091.7 1880.4,1173.5 1880.7,1201.9 1881,1123.2 1881.4,1098.3 1881.6,1052.2 1881.9,1102 1882.1,1095.6 1882.5,1052.8 1883,1115.5 1883.4,1108 1883.7,1204.3 1884.1,1079.2 1884.3,1063.7 1884.7,1182.2 1884.9,1184 1885.1,1138.1 1885.6,1088.1 1885.9,1191.1 1886.2,1138.5 1886.5,1135.8 1886.8,1102.9 1887,1243 1887.1,1208.8 1887.3,1147.4 1887.8,1217.1 1888.2,1090.3 1888.4,1221.6 1888.8,1052.2 1889.2,1065.9 1889.5,1137.3 1889.8,988.6 1890,950 1890.1,1161.6 1890.5,964.8 1890.7,1204.7 1891,1091.7 1891.3,1181 1891.6,1084.5 1892,1058.8 1892.3,1199.2 1892.7,1019.7 1893.1,1154.2 1893.6,1076.8 1894,1171.7 1894.4,1026.9 1894.7,1191.5 1895,1183.3 1895.2,1183.1 1895.6,1188.1 1896,1049 1896.4,1026.2 1896.8,986.7 1897.2,1067.7 1897.7,1178.6 1897.9,1182.9 1898.2,1123.6 1898.5,1041.3 1898.9,1176 1899.2,1073.8 1899.5,1168.1 1899.9,1113 1900.2,1079.8 1900.7,938.4 1900.9,998.4 1901.3,1126.2 1901.5,1079 1901.8,1000.7 1902.3,1101.9 1902.6,1069.4 1902.9,977.9 1903.3,1119.6 1903.6,954.2 1903.9,1165.4 1904.2,1130.1 1904.6,1160.4 1904.9,1156.1 1905.2,895 1905.6,1088.8 1906,884 1906,1153.8 1906.3,954 1906.5,970.1 1906.8,1163.9 1907.1,1068.2 1907.4,1051.5 1907.6,1129.6 1908,1073.7 1908.4,1155.1 1908.6,909 1909,1056.3 1909.2,1088.4 1909.6,1077.5 1910,931.5 1910.4,1020.1 1910.6,1163.3 1911,1084.6 1911.4,957.8 1911.9,1091.9 1912.3,976.1 1912.8,1144.3 1913.2,1077.3 1913.6,881.2 1913.9,1075.9 1914.2,1061 1914.4,996.3 1914.7,1139.4 1915,1157.5 1915.3,906.5 1915.7,1132.7 1915.9,929.2 1916.4,1011.6 1916.6,1122.3 1917,852 1917,1167 1917.1,878.6 1917.3,1134.3 1917.6,1113.5 1918,1083.5 1918.4,1140 1918.7,870.3 1919.1,1150.8 1919.4,997.1 1919.7,1084.1 1920,1018.8 1920.5,1117 1920.8,1111.2 1921.1,970 1921.4,1051.4 1921.8,1156.4 1922.2,1069.5 1922.5,1012.6 1922.9,1148.8 1923.3,1150.4 1923.6,1088.5 1923.8,1100.1 1924.1,1001.1 1924.5,1081.9 1924.9,984.4 1925.3,898.4 1925.8,1092.7 1926,887.2 1926.3,1048.4 1926.6,1018.9 1927,867.5 1927.2,1003.6 1927.7,1122.1 1927.9,1014.9 1928.3,1102.3 1928.6,1134.9 1928.8,1058.4 1929.1,794.7 1929.3,1076.4 1929.8,886.9 1930,839.6 1930.4,1028.7 1930.8,1077.6 1931,727 1931,794.6 1931.4,789.8 1931.6,1111 1931.8,876.7 1932.2,1137.8 1932.4,845.4 1932.7,828.7 1932.9,958.5 1933.1,905.1 1933.5,955.9 1933.8,813.2 1934,1131.1 1934.4,1126.1 1934.6,1023.4 1935,862.6 1935.4,1131.5 1935.7,884.6 1936,920.9 1936.2,1078.2 1936.4,920.2 1936.8,862.5 1937.1,1115.8 1937.4,1089.2 1937.8,1104.7 1938,1064.4 1938.3,1042.3 1938.6,964.9 1938.9,1121.1 1939.2,952.2 1939.5,994.2 1940,1120.8 1940.2,1022.5 1940.6,870.8 1940.9,964.2 1941.2,919 1941.7,1086.6 1941.9,1096.6 1942.2,880.8 1942.5,981.5 1942.8,856.2 1943.1,931.5 1943.3,1136.4 1943.7,905.1 1944.1,1147.3 1944.5,1069 1944.9,955.7 1945.2,1063.7 1945.5,1143.2 1945.7,961.2 1946,904.1 1946.2,1097.5 1946.4,876.7 1946.9,897.2 1947.2,1146 1947.5,1119.9 1947.7,1019.3 1948,1146.9 1948.3,880.1 1948.8,1052.3 1949,944.4 1949.2,1028.7 1949.5,854.7 1949.8,1062.1 1950.1,1024.1 1950.5,1065.7 1950.8,1036.8 1951,1169 1951.2,1079.4 1951.6,879.5 1951.9,923.2 1952.2,1137.4 1952.4,870.5 1952.8,1051.8 1953.2,1006.8 1953.5,1093.5 1953.9,1098.1 1954.3,938 1954.6,1121 1954.9,959 1955.3,1122.2 1955.7,1113.1 1956,1119.1 1956.3,978.8 1956.7,1101.2 1957.1,1110.1 1957.5,1077.4 1957.8,1114.9 1958.2,1101.3 1958.6,1049.9 1958.9,957 1959.3,872.5 1959.7,1057.5 1960,866.8 1960.2,1019 1960.5,828.3 1960.8,945.4 1961.2,920.1 1961.4,839.9 1961.7,874.2 1962,1021 1962.5,938.5 1962.7,918.5 1963.1,925.8 1963.4,894.5 1963.7,1000 1963.9,896.2 1964.3,878.3 1964.5,987.4 1964.8,1102.6 1965.1,822.4 1965.5,1077 1965.9,947.8 1966.2,950.1 1966.5,1069.5 1966.7,945.9 1967.1,913.1 1967.4,1023 1967.7,916.1 1968,968.1 1968,1128 1968.4,1018.9 1968.8,1116.9 1969,869.9 1969.3,1115.2 1969.5,897.9 1969.7,1008.4 1970,881 1970.3,984.2 1970.5,881.9 1971,945.6 1971.4,947.2 1971.8,854.6 1972.1,1106.3 1972.6,793.8 1972.8,1096.5 1973.1,1089 1973.4,1089.6 1973.7,1100.3 1974,1036.9 1974.4,1009.1 1974.6,801.1 1975.1,902.4 1975.3,996.7 1975.6,989.4 1975.8,969.7 1976.3,868.5 1976.7,861.4 1977.1,763.5 1977.5,794.4 1977.8,851.9 1978.2,740 1978.6,934.3 1978.9,975.5 1979.1,824.3 1979.5,1013.4 1979.9,736.1 1980.2,1034.6 1980.5,946.3 1980.8,972.6 1981,1016.7 1981.3,1027.2 1981.5,859.6 1981.9,713 1982.2,659.5 1982.4,1009.3 1982.7,1032.5 1983,741.3 1983.3,712.4 1983.7,643 1984,843.6 1984.3,893.3 1984.6,686.2 1984.8,945.8 1985.3,1018.9 1985.6,970.5 1986,796.8 1986.2,717.8 1986.5,921.4 1986.9,673.5 1987.2,727.2 1987.5,811.5 1987.7,739.8 1988.1,734 1988.3,800.2 1988.7,832.8 1988.9,910.5 1989.2,985.9 1989.6,917.8 1989.9,973.8 1990.2,495.1 1990.4,960.9 1990.7,468 1991,842.4 1991.2,636.4 1991.5,934.8 1992,825 1992.3,747.5 1992.8,918.5 1993,820.1 1993.3,481.2 1993.6,773.9 1994,444.6 1994.3,697.8 1994.7,585.4 1995,297 1995,695.5 1995.2,687.3 1995.7,759.4 1996,582.9 1996.3,818.4 1996.7,493.2 1996.9,842 1997.3,368.9 1997.5,848.2 1997.9,761.5 1998.2,857.9 1998.6,813.9 1998.8,516.8 1999.2,408.5 1999.6,571.4 2000,806 2000.4,743.7 2000.7,830 2001.2,722 2001.6,390.6 2002,716.4 2002.4,373 2002.7,531.2 2003.1,688 2003.3,801.8 2003.7,415.5 2004,759.2 2004.3,673.8 2004.7,658.9 2005,806.6 2005.4,543.4 2005.7,619.5 2006,610.8 2006.4,460.1 2006.7,670.9 2007.1,730.1 2007.5,758.2 2007.9,685.9 2008.2,753.4 2008.5,325.8 2008.9,698.4 2009.2,748.7 2009.4,704.6 2009.9,658.3 2010.2,735.2 2010.4,317.2 2010.8,358.9 2011.2,430.2 2011.5,694.6 2011.8,719 2012,451.8 2012.3,721.1 2012.6,374.2 2013,433 2013.4,332.7 2013.8,610.3 2014.1,660.6 2014.3,674.4 2014.7,733.4 2014.9,692.2 2015.2,295.8 2015.5,375.4 2015.9,532.8 2016.2,651.7 2016.5,513.6 2016.9,410.6 2017.2,794.7 2017.4,558 2017.7,854.8 2017.9,780.5 2018.2,511.7 2018.6,768.9 2018.9,820 2019.4,874.9 2019.7,494 2020.1,670.2 2020.6,564.6 2021,941.3 2021.2,705.9 2021.6,953.2 2022,811.4 2022,216 2022.3,679.7 2022.7,856.4 2023.1,624.4 2023.4,862.1 2023.7,750 2024.1,612 2024.3,780.3 2024.6,956.6 2024.9,367.1 2025.1,759 2025.4,1056 2025.6,1016 2025.9,477.6 2026.2,936.4 2026.5,769.3 2026.8,1044.9 2027,592.6 2027.3,1064.7 2027.7,951 2027.9,845.6 2028.3,1003.2 2028.6,813.6 2029.1,966.1 2029.3,1063.2 2029.5,1360 2029.7,1170.6 2030.1,1087.5 2030.4,865.4 2030.8,579.3 2031.2,714.9 2031.6,1010.9 2032,754.5 2032.2,642.4 2032.4,835.1 2032.8,645.2 2033.2,835.1 2033.6,844.1 2034,335.9 2034,326 2034,326 2034.3,605.6 2034.7,1063.8 2035.1,662.1 2035.5,535.6 2035.9,1033.8 2036.2,694.5 2036.6,370.2 2037,499.2 2037.2,849.7 2037.7,383.4 2038.1,917.8 2038.5,766.2 2038.9,676.2 2039.3,607.6 2039.8,797.6 2040,330 2040.1,659.8 2040.4,1078.9 2040.9,932.4 2041.2,1082.8 2041.5,421.4 2041.8,949.5 2042.2,987.1 2042.6,755.2 2043,829.8 2043.3,980.5 2043.6,1097.4 2043.8,1043.3 2044.1,600.1 2044.5,925.4 2044.8,965.6 2045.2,847.3 2045.4,823.6 2045.7,1053.5 2046.1,1071.4 2046.4,702.8 2046.8,652.2 2047,625.7 2047.3,676.8 2047.6,1099.8 2047.8,669.2 2048.2,823.2 2048.6,1101.2 2048.9,957 2049.4,751.5 2049.6,713.7 2050,1026.2 2050.2,982.5 2050.5,974.6 2050.8,754.8 2051.1,1031.7 2051.5,1054 2051.8,1092.5 2052.1,753.8 2052.5,964.6 2052.9,911.2 2053.2,1025.7 2053.4,1110 2053.7,1016.9 2053.9,924.3 2054.2,1069.9 2054.4,995.3 2054.7,869.1 2055,1108 2055.2,864.8 2055.6,1062.8 2056,1113.6 2056.4,871.2 2056.8,1114.9 2057.1,915.9 2057.5,1088.6 2057.7,1114 2058.1,1094.1 2058.4,891.3 2058.8,1017.9 2059.2,1103.2 2059.7,896.8 2060,888.3 2060.3,852.8 2060.6,872.2 2061,866.7 2061.4,1113.9 2061.7,962.2 2062.1,952.6 2062.3,1053.8 2062.6,1096.2 2062.9,1004.4 2063.2,1074.8 2063.5,852.2 2063.9,925.2 2064.3,1126.1 2064.7,1118.2 2065,929.1 2065.4,974.1 2065.7,935.2 2066,1102.4 2066.3,1121.3 2066.5,842.8 2067,1063.7 2067.3,1084.8 2067.7,1019.1 2067.9,868.3 2068.4,1141.9 2068.7,1105.3 2069,815 2069.1,1066.4 2069.3,1085.1 2069.7,1021.2 2070,956.4 2070.4,846.7 2070.7,915 2071.1,985.2 2071.5,920.3 2071.9,1128.1 2072.2,1138.6 2072.4,966.7 2072.7,1116 2072.9,1167.4 2073.3,1088.5 2073.6,977.7 2074,970.3 2074.3,850.7 2074.5,1019 2074.9,1118.2 2075.3,1013.8 2075.7,1159.3 2076.1,1124 2076.5,978.5 2076.8,1132.8 2077.1,892.2 2077.5,1077.9 2077.8,1021.2 2078.1,1177.3 2078.3,1050 2078.7,917 2079,967.4 2079.5,1085.3 2079.8,1094.5 2080.1,1010.9 2080.5,1175.5 2080.9,1083.4 2081.3,1078.7 2081.7,1071.7 2081.9,1176.5 2082.3,1132.4 2082.5,1003.1 2082.9,1020.7 2083.2,1178.5 2083.6,1164.1 2084,1045 2084.3,1196.1 2084.6,1019.5 2085,960.1 2085.3,1039.5 2085.6,1082.8 2085.9,1165.4 2086.2,1077.5 2086.7,1079.9 2087,1068.3 2087.4,1130.5 2087.6,1060.7 2087.9,1198.4 2088.2,1142.7 2088.6,1069.4 2088.9,1024.6 2089.2,1145.9 2089.6,1064.7 2089.9,1004.5 2090.1,1103.3 2090.5,1008.8 2090.8,1030.5 2091.1,992.8 2091.4,1071.8 2091.8,976.9 2092.1,1141.4 2092.3,1068 2092.5,1021.2 2092.8,1182.5 2093.2,1117.5 2093.6,1153.3 2093.9,1148.6 2094.3,1184.3 2094.8,1015.2 2095.2,1171.7 2095.6,1009.2 2095.9,1181 2096.3,993.9 2096.6,1193.9 2096.9,1087.9 2097.1,1212.1 2097.4,1175.3 2097.7,1205.9 2098.1,1076.4 2098.4,1101.6 2098.7,1044.8 2099.1,1087.2 2099.4,1035.4 2099.6,1202.2 2100.1,1032.4 2100.3,1014.5 2100.6,1026.1 2101,1153.5 2101.2,1053.2 2101.6,1132 2101.9,1156.9 2102.4,1134.2 2102.6,986.9 2103.1,1195.4 2103.3,1064.4 2103.6,1132.6 2104,1178.1 2104.4,1191.7 2104.6,1115.3 2104.9,1016.4 2105.2,1009.8 2105.5,1164.6 2105.7,1170.6 2106.1,1160.9 2106.6,991.4 2107,1197.7 2107.3,1201 2107.5,1168.1 2107.8,1081.1 2108.1,1178 2108.4,1206.2 2108.6,1145 2108.8,1124.2 2109.1,1055.2 2109.4,1030.1 2109.8,1007.4 2110.1,1007.6 2110.4,1021.3 2110.7,1120 2111,1059.4 2111.3,1020.8 2111.7,1148.1 2111.9,1184.3 2112.2,1162 2112.6,1225.3 2112.9,1016.8 2113.3,1078.2 2113.7,1102.3 2114.2,1047.6 2114.5,1130.8 2115,1115.8 2115.3,1175.9 2115.7,1132.3 2116.2,978.9 2116.6,994.7 2116.8,1219.1 2117.1,1034.2 2117.5,1186.8 2117.7,1188.2 2117.9,1208.4 2118.3,1199.5 2118.6,1095.5 2118.8,1030.8 2119.2,1016.3 2119.6,1062.3 2119.9,1148.2 2120.2,1155.8 2120.6,1144.7 2121,1091.3 2121.2,1196.3 2121.6,1042.8 2121.8,1188.3 2122.1,1138.4 2122.5,998 2122.8,1182.2 2123.1,1125.2 2123.4,1155.4 2123.6,1082.5 2124,1005.4 2124.4,1157 2124.7,1111.4 2125,1115.6 2125,1228 2125.3,1198.6 2125.6,1023 2126,1168.4 2126.2,1085.8 2126.6,1174.4 2126.9,1146.9 2127.3,1002.4 2127.6,1109.2 2127.9,1069.2 2128.2,1182.9 2128.6,1202.8 2129,1178.3 2129.4,1129.1 2129.6,1195.2 2130.1,1217.3 2130.3,1038.2 2130.6,1189.6 2131,950.1 2131.3,1045.6 2131.6,941.6 2131.9,978 2132.3,1199.3 2132.6,1041.6 2132.9,1206 2133.3,961.7 2133.7,1208.5 2134.1,933.7 2134.5,1032 2134.8,1059.4 2135.3,1101.2 2135.5,1194.5 2136,1029.3 2136.4,1194.2 2136.6,1036.6 2136.9,1109.9 2137.2,1005.3 2137.6,1017.8 2137.9,1099.5 2138.2,1107.2 2138.5,1105.7 2139,983.7 2139.2,1033.4 2139.6,1143.3 2140,896 2140.1,921.8 2140.3,1048.3 2140.6,1104.5 2140.9,956.2 2141.3,944.4 2141.6,982.2 2141.9,1188.3 2142.3,1066.7 2142.5,942.8 2142.9,1031.1 2143.3,1150 2143.7,1078.4 2144,1082.9 2144.4,1022.8 2144.7,1028.2 2145.1,1138.1 2145.4,1136.1 2145.8,1132.5 2146.3,1160 2146.5,1150.8 2146.7,952.3 2147.2,1124.2 2147.5,949.7 2147.9,1175.5 2148.2,1097.5 2148.4,1184.5 2148.7,1205.9 2149,1059.7 2149.2,936.2 2149.7,1035.6 2150,1000.7 2150.3,956.3 2150.6,1028.5 2151,1025.1 2151.4,1150.5 2151.6,1143 2152.1,1223.6 2152.3,1161.6 2152.7,961.5 2152.9,1213.1 2153.1,1153.8 2153.5,1119.1 2153.9,1099.6 2154.2,1134.7 2154.4,931.5 2154.8,1216.6 2155,1002 2155.4,1016.1 2155.8,1208 2156.2,1195.6 2156.4,1018.9 2156.8,1169.8 2157.1,1025.3 2157.4,1127.9 2157.9,1213.9 2158,1234 2158.3,970.1 2158.8,1187.9 2159.1,1134.7 2159.3,964.9 2159.7,999.9 2160,1119.5 2160.4,1215.4 2160.7,1004.1 2161.1,1033.3 2161.5,1040.4 2161.9,1050 2162.2,1197.7 2162.5,997.7 2162.9,1228.8 2163.2,981.9 2163.6,1136 2163.9,1100.2 2164.3,1139.7 2164.7,1031.8" fill="none" stroke="#B177DE" stroke-width="4.6" stroke-linejoin="round"/>
<polyline points="334.5,3099.4 337.6,3096.6 340.6,3093.8 343.7,3091 346.7,3088.2 349.8,3085.4 352.8,3082.6 355.9,3079.8 358.9,3077 362,3074.2 365.1,3071.3 368.1,3068.4 371.2,3065.5 374.2,3062.6 377.3,3059.7 380.3,3056.7 383.4,3053.8 386.4,3050.7 389.5,3047.7 392.5,3044.6 395.6,3041.5 398.7,3038.4 401.7,3035.2 404.8,3032 407.8,3028.8 410.9,3025.5 413.9,3022.2 417,3018.9 420,3015.5 423.1,3012.1 426.1,3008.6 429.2,3005.1 432.3,3001.5 435.3,2998 438.4,2994.3 441.4,2990.6 444.5,2986.9 447.5,2983.2 450.6,2979.3 453.6,2975.5 456.7,2971.6 459.8,2967.7 462.8,2963.7 465.9,2959.7 468.9,2955.6 472,2951.5 475,2947.3 478.1,2943.1 481.1,2938.9 484.2,2934.6 487.2,2930.3 490.3,2925.9 493.4,2921.5 496.4,2917.1 499.5,2912.6 502.5,2908.1 505.6,2903.6 508.6,2899 511.7,2894.4 514.7,2889.7 517.8,2885.1 520.9,2880.4 523.9,2875.6 527,2870.9 530,2866.1 533.1,2861.2 536.1,2856.4 539.2,2851.6 542.2,2846.7 545.3,2841.8 548.4,2836.9 551.4,2831.9 554.5,2827 557.5,2822.1 560.6,2817.1 563.6,2812.1 566.7,2807.2 569.7,2802.2 572.8,2797.3 575.8,2792.3 578.9,2787.3 582,2782.4 585,2777.5 588.1,2772.5 591.1,2767.6 594.2,2762.8 597.2,2757.9 600.3,2753 603.3,2748.2 606.4,2743.5 609.5,2738.7 612.5,2734 615.6,2729.3 618.6,2724.7 621.7,2720.1 624.7,2715.6 627.8,2711.1 630.8,2706.7 633.9,2702.3 636.9,2698 640,2693.8" fill="none" stroke="#515151" stroke-width="8.8" stroke-linejoin="round"/>
<g stroke="#F14040" stroke-width="8"><line x1="640.2" y1="2694.8" x2="650.4" y2="2678.8"/><line x1="661.5" y1="2661.6" x2="672.3" y2="2644.8"/><line x1="684.6" y1="2626.1" x2="695.4" y2="2609.3"/><line x1="708.9" y1="2588.5" x2="719.9" y2="2571.7"/><line x1="733" y1="2551.7" x2="744" y2="2534.9"/><line x1="756.7" y1="2515.5" x2="767.7" y2="2498.7"/><line x1="779.8" y1="2480.3" x2="790.8" y2="2463.5"/><line x1="805.3" y1="2441.4" x2="816.5" y2="2424.8"/><line x1="831.7" y1="2402.7" x2="843.1" y2="2386.3"/><line x1="854.9" y1="2369.4" x2="866.1" y2="2352.8"/><line x1="873.2" y1="2341.7" x2="884.6" y2="2325.3"/><line x1="897.6" y1="2307.6" x2="909.4" y2="2291.4"/><line x1="922.6" y1="2273" x2="934.4" y2="2256.8"/><line x1="946.8" y1="2239.6" x2="958.6" y2="2223.4"/></g>
<g stroke="#1A6FDF" stroke-width="8"><line x1="970.6" y1="2207" x2="974" y2="2205"/><line x1="988.8" y1="2196.2" x2="992.2" y2="2194"/><line x1="1008.2" y1="2183.5" x2="1011.6" y2="2181.3"/><line x1="1024.9" y1="2173.1" x2="1028.3" y2="2170.9"/><line x1="1044" y1="2161.1" x2="1047.4" y2="2158.9"/><line x1="1060.5" y1="2150.3" x2="1063.9" y2="2148.1"/><line x1="1076.3" y1="2140.5" x2="1079.7" y2="2138.3"/><line x1="1098.7" y1="2126.5" x2="1102.1" y2="2124.5"/><line x1="1115.4" y1="2116.6" x2="1118.8" y2="2114.6"/><line x1="1133" y1="2106.2" x2="1136.4" y2="2104.2"/><line x1="1150.8" y1="2095.9" x2="1154.2" y2="2093.9"/><line x1="1168.6" y1="2085.7" x2="1172" y2="2083.7"/><line x1="1187.7" y1="2074.4" x2="1191.1" y2="2072.4"/><line x1="1206.4" y1="2064.1" x2="1210" y2="2062.1"/><line x1="1223" y1="2055" x2="1226.6" y2="2053"/><line x1="1245.4" y1="2042.5" x2="1249" y2="2040.7"/><line x1="1263.5" y1="2033.2" x2="1267.1" y2="2031.4"/><line x1="1285.1" y1="2022.3" x2="1288.7" y2="2020.5"/><line x1="1301.6" y1="2014.1" x2="1305.2" y2="2012.3"/><line x1="1318.5" y1="2006.2" x2="1322.1" y2="2004.6"/><line x1="1341.5" y1="1995.5" x2="1345.1" y2="1993.9"/><line x1="1359.6" y1="1987.2" x2="1363.2" y2="1985.6"/><line x1="1376.7" y1="1979.6" x2="1380.3" y2="1978"/><line x1="1394" y1="1972.4" x2="1397.6" y2="1970.8"/><line x1="1415.5" y1="1963.5" x2="1419.3" y2="1962.1"/><line x1="1439.8" y1="1954.2" x2="1443.6" y2="1952.8"/><line x1="1465.9" y1="1944.8" x2="1469.7" y2="1943.6"/><line x1="1485.1" y1="1938.7" x2="1488.9" y2="1937.5"/><line x1="1501.5" y1="1933.8" x2="1505.3" y2="1932.8"/><line x1="1519.6" y1="1928.9" x2="1523.4" y2="1927.9"/><line x1="1544.2" y1="1923.4" x2="1548.2" y2="1922.6"/></g>
<polyline points="1563.2,1920.7 1566.7,1920.6 1571.8,1920.6 1577.4,1920.5 1582.6,1920.7 1587.3,1921.2 1592,1921.9 1596.4,1922.6 1600.5,1923 1604.7,1923.1 1608.3,1922.8 1613,1922.5 1617,1922.3 1621.7,1922.1 1626.7,1921.9 1631.6,1921.7 1636,1921.5 1640.7,1921.3 1644.9,1921.1 1649,1920.9 1653,1920.7 1656.9,1920.6 1660.6,1920.5 1664.5,1920.4 1669,1920.3 1673.3,1920.3 1678.2,1920.2 1683.2,1920.2 1687.9,1920.2 1692,1920.3 1697.3,1920.4 1701.5,1920.7 1705,1921.7 1708,1925.6 1712.4,1930 1715.7,1931.2 1719.9,1932.4 1724.6,1933.5 1729.2,1934.5 1733.4,1935.3 1736.6,1936 1743,1936.5 1746.2,1937.1 1750.3,1938 1754.9,1938.9 1759.6,1939.9 1763.9,1940.8 1767.6,1941.5 1772.8,1942.3 1776.8,1942.7 1781,1943 1785.8,1943.4 1790.8,1943.7 1796,1944 1800.1,1944.1 1804.4,1944.2 1808.7,1944.3 1813,1944.5 1817.5,1944.8 1822,1945.2 1826.4,1945.8 1830,1946.5 1834.5,1948.2 1838.3,1951 1842.1,1954.3 1846.1,1958.2 1849,1961" fill="none" stroke="#37AD6B" stroke-width="8" stroke-linejoin="round" stroke-dasharray="0 0 19.4 16 4.2 10.8 22.4 15.3 4 13.8 23.2 11.5 4 9.8 23 8.2 23.4 11.9 4.8 12.7 16.8 14.9 4.1 11.3 7.1 10000"/>
<polyline points="1849,1961 1853,1966 1854.5,1969.6 1856.2,1974.1 1857.9,1979.1 1859.6,1984 1860.7,1987.9 1861.6,1992 1862.6,1996.1 1864,1999.8 1866,2003 1869.8,2006 1874.5,2008.2 1879.5,2010 1884,2011.6 1888.9,2012.9 1893.3,2013.7 1898.3,2015.5 1901.9,2017.5 1905.9,2020.1 1909.9,2022.9 1913.7,2025.7 1917,2028 1920.7,2030.8 1923.4,2033.1 1927,2035.5 1930.2,2037.2 1934,2039.1 1938,2041 1941.8,2042.8 1945,2044.5 1948.7,2046.9 1951.5,2049 1955,2051.5 1958.8,2053.9 1963.3,2056.6 1967.7,2059.3 1971.5,2061.5 1976.1,2064 1980.8,2066.5 1984.8,2068.6 1989.6,2071.2 1994.2,2073.7 1998,2075.8 2001.3,2078 2004.8,2080.5 2007.8,2082.3 2011.6,2084.5 2015.7,2086.9 2019.6,2089.3 2022.8,2091.5 2026.7,2094.4 2029.6,2097 2032.4,2100.5 2034.6,2104.3 2036.7,2108.7 2038.8,2113.1 2041,2116.8 2044,2120.1 2047.1,2122.4 2050,2125 2053,2128.6 2056,2132.3 2058,2135 2061,2150 2061,2152.1 2061,2154.4 2061,2157 2060.9,2159.7 2060.9,2162.6 2060.8,2165.6 2060.8,2168.8 2060.7,2172.2 2060.6,2175.8 2060.6,2179.5 2060.5,2183.3 2060.4,2187.2 2060.3,2191.3 2060.2,2195.5 2060.1,2199.8 2060,2204.2 2059.9,2208.6 2059.8,2213.2 2059.7,2217.9 2059.6,2222.6 2059.5,2227.4 2059.4,2232.2 2059.3,2237.1 2059.2,2242 2059.1,2247 2059,2252 2058.9,2257 2058.8,2262 2058.7,2267 2058.7,2272 2058.6,2277.1 2058.6,2282 2058.5,2287 2058.5,2292 2058.4,2296.9 2058.4,2301.7 2058.4,2306.5 2058.4,2311.3 2058.4,2315.9 2058.5,2320.5 2058.5,2325 2058.6,2329.5 2058.6,2333.8 2058.7,2338 2058.8,2342.1 2058.9,2346.1 2059.1,2350 2059.2,2353.7 2059.4,2357.3 2059.6,2360.7 2059.8,2364 2060,2367.1 2060.3,2370.1 2060.6,2372.8 2060.8,2375.4 2061.2,2377.8 2061.5,2380 2064,2389.8 2067.4,2395.9 2071.4,2398.8 2075.9,2399.4 2080.6,2398.1 2085.4,2395.7 2090,2392.9 2094.3,2390.2 2098,2388.4 2101,2388 2108.2,2389.9 2112,2392 2116,2394.8 2120.1,2398.3 2124,2402 2127.9,2406.3 2131.5,2410.8 2134,2414" fill="none" stroke="#B177DE" stroke-width="8" stroke-linejoin="round" stroke-dasharray="0 5.6 18.2 19 4.2 16.9 4 15.5 17.1 13.2 4.1 15.7 5 12 14.5 10.6 4.9 15.3 4.1 8.4 16.3 13.6 4.6 13.9 4 7.5 4 6.2 4 303.6 21.5 16.5 4 10000"/>
<polyline points="335,3113 640,3113" fill="none" stroke="#515151" stroke-width="4.6" stroke-linejoin="round"/>
<polyline points="640,3111.3 640.6,3110.8 641.1,3110.8 641.9,3111.5 642.7,3111.6 643.5,3111.5 644.1,3110.9 645.1,3111.1 645.8,3110.4 646.9,3110.2 647.7,3109.4 648.2,3109.4 648.9,3110.5 649.5,3110.4 650.5,3110.5 651.4,3109.8 652.2,3109.7 652.7,3110.4 653.3,3109.5 654.1,3109.9 655,3109.6 655.7,3109 656.7,3109.7 657.6,3109.3 658.6,3108.8 659.3,3108.2 659.9,3109 660.9,3109.5 661.7,3109.7 662.7,3108.5 663.6,3108 664.3,3108.1 665.2,3108.3 666,3107.8 667.1,3108.2 668.1,3108.9 669,3108 670.2,3107.4 670.9,3108 671.8,3108.6 672.6,3108.4 673.2,3108.5 674.2,3108.3 674.9,3107.8 676,3108.1 676.8,3107.4 677.9,3106.7 678.9,3107.4 679.7,3107.3 680.8,3106.2 681.4,3107.2 682.1,3107.2 682.9,3106.5 683.6,3107.2 684.3,3106.6 685.2,3105.4 686.2,3105.7 687.1,3105.4 687.6,3104.8 688.6,3104.6 689.7,3105.3 690.4,3106 691.4,3106.1 691.9,3105.7 692.5,3105.3 693,3105.9 693.6,3105.7 694.4,3105.7 695.5,3104.3 696.1,3104.7 696.8,3104.5 697.4,3103.2 698.5,3103.7 699.4,3104.6 699.9,3104.1 700.6,3102.7 701.2,3104.3 702.4,3103.3 703,3103 703.5,3102.9 704.6,3101.8 705.6,3103.1 706.3,3103.5 707.3,3102.5 708.4,3102.7 709,3101.4 710.2,3100.8 711.2,3100.6 712.2,3102.2 713,3102.1 713.6,3103 714.3,3102.4 715.2,3100 716,3099.4 717.2,3099.1 717.9,3101.3 718.6,3101.8 719.2,3100.4 720.3,3099.2 721.1,3099.5 722.2,3101.4 723.1,3098.8 724.1,3098.7 724.9,3100.7 726,3100.4 727,3097.8 727.8,3099.3 728.9,3098.3 729.5,3100.3 730.1,3097.6 731.1,3099.9 732.2,3096.9 733.1,3098.7 734,3099.9 734.5,3096.6 735.4,3097.6 736.6,3098.1 737.6,3096.3 738.3,3098.4 739,3098.7 739.9,3098.6 740.6,3099 741.8,3098 742.6,3096.6 743.7,3096.9 744.8,3096.5 745.6,3096.1 746.1,3096.4 746.8,3098.5 747.8,3098 748.6,3094.9 749.5,3096.2 750.3,3095.1 751.4,3097.3 752.2,3096.8 752.9,3093.3 753.7,3093.8 754.8,3091.3 755.6,3092.7 756.4,3093.5 757.4,3093.9 758.2,3093.6 759.3,3091.6 760.4,3089.1 761.1,3091.6 762.2,3089.7 762.8,3095.1 763.6,3096.5 764.3,3096.7 765.2,3090.7 766.3,3094.7 767.3,3091.1 767.9,3088.4 769,3093.4 770.2,3092.7 771,3087.4 772,3093.4 772.8,3091.4 773.6,3093.7 774.3,3089.5 774.8,3090 775.6,3094.8 776.3,3090.3 777.1,3094.3 778.3,3088.5 779.4,3093.4 780.1,3094.9 781.1,3093 781.7,3091.1 782.8,3086.9 783.5,3092.3 784.6,3089.2 785.6,3093.1 786.1,3088.1 786.9,3092.9 788,3088.4 789.1,3092.8 790.1,3093.8 791.2,3090.1 791.9,3088.4 793.1,3090.8 793.6,3088.6 794.3,3092.4 794.9,3093.7 795.5,3091.3 796.2,3086.2 796.9,3087.8 797.6,3089.6 798.1,3090.9 798.6,3086.2 799.4,3090.8 800.3,3084 800.8,3083.8 801.6,3087 802.7,3088.7 803.5,3085.9 804.7,3088.9 805.7,3085.5 806.7,3088 807.4,3092.3 808,3092.9 809,3091 809.6,3092.4 810.6,3084.1 811.6,3088.8 812.2,3089.6 813,3091.2 813.8,3090.3 815,3082.1 815.9,3088.6 817,3089.1 817.7,3092.7 818.5,3088 819.3,3090.1 820.2,3092.7 820.8,3092.2 821.6,3092.7 822.1,3089.7 822.8,3085.8 823.6,3083 824.6,3082.8 825.6,3086.5 826.4,3080.2 827,3082 827.9,3090.3 829,3081.8 829.9,3082 830.9,3089.1 831.8,3086.1 832.8,3081.8 833.9,3083.6 835,3082.7 835.9,3088.1 836.4,3090.4 837.2,3091.2 838.2,3085.6 839.2,3083.6 840.1,3084.9 840.6,3081.2 841.6,3084.2 842.5,3082.7 843,3081.4 843.7,3089.7 844.4,3082.8 845,3081.3 846.2,3084.1 846.9,3084.9 847.9,3081.2 848.8,3082.1 849.3,3088.8 850,3082.2 850.7,3083.2 851.2,3090.2 851.9,3083.3 852.8,3081.9 853.5,3083.7 854.4,3084.7 854.9,3079 855.6,3076.7 856.7,3089.5 857.5,3080.9 858.6,3084.2 859.3,3088.3 860.4,3089.1 861.3,3090.2 862.2,3078.8 862.8,3078.4 863.6,3077.3 864.6,3086.5 865.7,3084.6 866.2,3091.3 867,3086.1 867.7,3089.5 868.5,3087.6 869.5,3091.9 870.5,3080.3 871.1,3076.6 872.1,3076.2 872.8,3084 873.5,3076.1 874.4,3084.1 875,3074 875.2,3087 875.7,3090.2 876.8,3088.1 877.9,3088.2 878.6,3084.3 879.2,3085.6 880.4,3078.4 881.4,3080.7 882.5,3076.7 883.4,3079.1 883.9,3079.4 884.7,3079.2 885.6,3085.9 886.2,3078.1 886.8,3083 887.5,3086.4 888.5,3077.7 889.1,3080.4 889.8,3082.3 890.6,3088.1 891.2,3088.7 892.3,3084.8 893,3078.6 894.1,3083.5 894.7,3087.9 895.3,3086.8 895.8,3087.9 896.5,3083.8 897.6,3080.7 898.4,3084.4 899.2,3085.7 900,3089.9 900.6,3079.2 901.2,3083 902.2,3079.2 902.8,3086 903.5,3085.7 904.3,3078.6 905.3,3078.2 905.8,3088.8 906.8,3080 907.6,3082.2 908.1,3085.1 909.2,3080.2 910.3,3077.4 911,3087.7 911.6,3084.6 912.5,3078.7 913.5,3081.2 914.5,3084.1 915.4,3089.9 916.4,3088.7 917.5,3083.3 918.2,3088.7 918.9,3083.4 919.9,3088.9 920.4,3084.9 921.3,3085.8 922,3083.3 922.5,3086.5 923.3,3079.1 924.2,3078.5 925,3086.4 925.7,3079.1 926.6,3085.6 927.2,3084.6 928.1,3085.4 928.8,3082.5 929.9,3087.3 930.4,3086.9 931.2,3082.7 931.8,3080.4 932.8,3083.6 933.5,3078.5 934.2,3079.4 934.8,3086.8 935.8,3087.4 937,3085.1 937.6,3087.9 938.4,3083.2 939.5,3088.5 940.3,3088.7 941.4,3089.5 942,3090.6 942.7,3080.5 943.8,3080.3 945,3077.7 945.7,3086.3 946.8,3080.9 947.3,3080.8 948.1,3084.4 948.8,3087.6 949.3,3086.8 950,3077.9 950.6,3075.9 951.3,3083.3 952.3,3078.6 953.1,3087.6 953.9,3085.1 955,3086.8 955.8,3077.8 956.3,3082.4 957.3,3078.4 957.9,3087.4 958.4,3077.2 959.1,3077.4 960.2,3082.8 960.9,3075.5 961.8,3083.5 962.7,3084.4 963.4,3088.8 964.4,3077.3 965.4,3074.6 965.9,3083.7 966.7,3075.7 967.8,3081.9 968.5,3082.5" fill="none" stroke="#F14040" stroke-width="4.6" stroke-linejoin="round"/>
<polyline points="969,3078.2 969.7,3077.4 970.3,3082.1 970.9,3088.1 971.6,3084.7 972.3,3094.8 972.9,3095.4 973.6,3089.5 974,3087.8 974.9,3093.4 975.6,3097.9 976,3096.8 976,3099 976.4,3098.1 976.9,3098.5 977.5,3096.5 978.3,3095.8 979,3095.5 979.7,3095.4 980.2,3092.7 981.1,3093 981.8,3094.9 982.3,3094.8 982.7,3092.4 983.3,3091.8 983.8,3090.9 984.6,3095.1 985.1,3090.5 985.7,3089.8 986.3,3094 987,3090.1 987,3089 987.5,3093.9 988,3089.8 988.8,3094.5 989.3,3094.9 989.7,3091.7 990.1,3093.1 990.7,3095.4 991.5,3096.1 992.2,3096.6 992.8,3096.5 993.3,3093 994.1,3096.8 994.9,3097.8 995.4,3094.9 996.1,3099.1 997,3099.1 997.5,3096.6 998.1,3099.3 998.5,3100.6 999.1,3100.3 999.8,3100 1000.4,3097.3 1001,3099.3 1001.8,3101.4 1002.3,3097.9 1003.1,3101.2 1003.5,3098.9 1004.4,3101.7 1005.2,3098.5 1005.9,3100.9 1006.3,3102.8 1007.2,3101.9 1007.9,3102 1008.7,3100.5 1009.2,3102.6 1010,3103.2 1010.5,3101 1011.3,3100.9 1011.8,3099.6 1012.3,3103.7 1012.8,3101.9 1013.2,3103.2 1013.7,3101.5 1014.2,3102.5 1015,3099.9 1015.7,3101.3 1016.4,3103.8 1016.7,3104.4 1017.6,3101.6 1018.4,3104.6 1019.1,3102.8 1019.9,3103.6 1020.7,3104.8 1021.4,3102.1 1022.2,3102.2 1022.9,3102.1 1023.8,3104.1 1024.5,3101.9 1025.3,3104.1 1026.1,3102.4 1026.7,3103.5 1027,3106 1027.3,3103.6 1028,3105.6 1028.7,3101.9 1029.5,3102.9 1030.1,3102.8 1030.7,3104 1031.5,3105.5 1032.3,3105.6 1032.9,3103.7 1033.4,3102.7 1034.1,3103 1034.9,3104.5 1035.3,3104.3 1036,3104.7 1036.4,3101.6 1037.2,3103.6 1038,3104.1 1038.7,3104.6 1039.3,3101.8 1040.1,3101.4 1040.7,3102.7 1041.2,3104.8 1041.8,3101.5 1042.6,3102 1043.5,3104 1043.9,3103.1 1044.5,3104.2 1045,3102.2 1045.7,3103.7 1046.4,3100.4 1047.1,3104.8 1047.4,3100.8 1047.8,3101.6 1048.5,3103.5 1049.3,3104.9 1049.7,3102.7 1050.1,3100.8 1050.6,3104.1 1051,3101.6 1051.6,3101.4 1052.3,3100.3 1053.1,3100.7 1053.6,3101.6 1054.1,3103.9 1054.7,3100.1 1055.2,3102.3 1055.7,3099.9 1056.3,3100.1 1057.1,3101.1 1057.9,3098.1 1058.3,3097.9 1059,3102 1059.6,3099.2 1060.5,3100.3 1061.1,3097.3 1061.9,3096.7 1062.5,3098.2 1063,3097.7 1063.8,3097.9 1064.5,3100.2 1065.3,3095.5 1066.2,3097.8 1066.9,3098.9 1067.8,3095.5 1068.3,3099.9 1068.9,3097 1069.7,3097.2 1070,3094 1070.1,3095.2 1070.5,3095.7 1070.9,3098.9 1071.7,3100.6 1072.2,3099.1 1072.9,3098.2 1073.6,3098.6 1074.2,3099.3 1074.7,3102.8 1075,3104 1075.3,3102.8 1076,3101.4 1076.7,3100.6 1077.3,3102.7 1077.9,3100.6 1078.7,3103.1 1079.5,3100 1080.2,3101.6 1080.6,3101.8 1081.3,3101.5 1081.6,3100 1082.3,3102.3 1083.1,3101.6 1083.7,3101.1 1084.1,3101.7 1084.7,3100 1085.5,3102.7 1086.1,3103.3 1086.7,3100.5 1087.5,3101.9 1088.1,3103 1088.7,3100 1089.2,3100.6 1089.6,3102.9 1090.1,3101 1090.6,3102.3 1091.3,3103.3 1092,3103.2 1092.6,3102.7 1093.1,3101.5 1093.7,3102.1 1094.3,3101.5 1094.8,3102.8 1095.4,3101.1 1096.1,3100.2 1096.8,3100.2 1097.3,3100.6 1098,3100 1098.6,3102.3 1099.4,3102.7 1100.3,3100 1100.7,3102.6 1101.5,3102.5 1101.9,3100.2 1102.5,3100.3 1102.9,3101.9 1103.6,3103.4 1104.1,3100.7 1104.9,3099.6 1105.4,3101.4 1106.1,3101.4 1106.8,3102.6 1107.2,3103 1107.6,3101.2 1108.3,3101.1 1108.7,3102.6 1109.2,3100 1110.1,3099.6 1110.5,3103.1 1111.3,3101.5 1112.1,3102 1112.7,3101.2 1113.3,3100.9 1113.7,3100.5 1114.5,3102.5 1115.1,3100.3 1115.7,3102.5 1116.1,3101.2 1116.5,3099.6 1117.3,3100.4 1118.1,3100.7 1118.7,3100.8 1119.3,3099.2 1120.1,3102.1 1120.9,3100.2 1121.7,3099.9 1122.2,3099.5 1123,3100.3 1123.8,3100 1124.4,3100.2 1124.8,3101.7 1125.4,3103 1126,3100.5 1126.6,3102.1 1127.5,3100.3 1128,3100.3 1128.7,3099.9 1129.3,3097.1 1130,3097.4 1130.7,3095 1131.1,3096.2 1131.8,3096.9 1132,3093 1132.4,3097.8 1132.9,3096.2 1133.3,3096.9 1134.1,3095.5 1134.8,3093.5 1135.4,3093.4 1136.1,3094.5 1136.5,3095.6 1137.3,3098.4 1138.1,3097.9 1138.7,3098 1139.4,3095.8 1139.8,3094.2 1140.4,3096.4 1141,3097.3 1141.6,3095.9 1142.2,3097.8 1142.9,3097.8 1143.3,3098.1 1143.7,3098.6 1144.5,3097.6 1145.3,3095.9 1145.7,3094.7 1146.5,3099.4 1147.4,3097.7 1148,3095.1 1148.5,3097.4 1149.3,3096.5 1149.9,3095.3 1150.7,3097.2 1151.1,3097.2 1151.8,3099.4 1152.2,3097.8 1152.6,3098.3 1153.3,3098.3 1153.8,3097.7 1154.4,3096.8 1155,3095.8 1155.9,3097.2 1156.4,3100.4 1157.2,3097.1 1157.9,3099.3 1158.4,3097.8 1159.1,3098.3 1159.7,3097.6 1160.2,3100.2 1161.1,3096.9 1161.9,3101.4 1162.3,3100.3 1162.9,3098.6 1163.3,3099.1 1163.7,3101.4 1164.4,3099.2 1165.1,3100.1 1165.7,3101 1166.3,3098.4 1167.1,3101.9 1167.5,3098.2 1168.2,3098.5 1168.7,3100.3 1169.2,3098.4 1169.7,3099.3 1170.6,3101 1171.3,3099 1172.1,3100.7 1172.7,3102.4 1173.5,3102.6 1173.9,3100.2 1174.5,3099.7 1175,3099.3 1175.4,3102.2 1176.2,3102.9 1176.7,3099.8 1177.4,3102.1 1177.8,3101.7 1178.6,3101.8 1179,3100.1 1179.7,3099.2 1180.5,3099.3 1181.1,3099.9 1181.6,3102.4 1182.2,3099.4 1183,3102.9 1183.6,3102.4 1184.2,3102.3 1184.7,3103.4 1185.4,3100.5 1186,3100.3 1186.7,3103.7 1187.4,3100.3 1188,3104.6 1188.6,3102.1 1189.2,3100.1 1189.9,3101 1190,3105 1190.4,3102.2 1191.1,3104.3 1191.5,3100.9 1192.4,3104 1193.1,3103.6 1193.8,3100.8 1194.3,3102.9 1195.1,3101.2 1195.8,3101.6 1196.4,3098.5 1197.1,3100.8 1197.7,3099.5 1198.4,3098.3 1199,3098.6 1199.7,3098.3 1200.5,3098.2 1201.3,3097.3 1202,3099.4 1202.8,3097.8 1203.3,3099.6 1203.8,3097.8 1204.7,3099.6 1205.1,3100.4 1205.7,3099.8 1206.6,3100.8 1207.1,3100.4 1207.8,3096.7 1208.3,3100.4 1208.9,3097.4 1209.7,3100.2 1210.1,3099.3 1210.6,3098.9 1211.3,3096.8 1211.8,3098.9 1212.3,3098.8 1213.1,3097.9 1213.7,3094.9 1214.4,3097.8 1215.2,3094.1 1215.7,3095.9 1216.6,3096.1 1217.1,3098.4 1217.9,3094 1218.5,3095.4 1219.1,3096.6 1220,3094.3 1220.5,3097.8 1221.1,3095.6 1221.9,3093.5 1222.5,3096.5 1223,3095.4 1223.5,3092.2 1224.1,3093.4 1225,3095.2 1225.6,3095.8 1226.4,3096.4 1227.2,3091.4 1228,3095.6 1228.5,3091.8 1228.9,3093.1 1229.5,3090.2 1230.2,3090.6 1230.7,3090.8 1231.3,3090 1231.7,3090.4 1232.2,3091.9 1232.8,3094 1233.6,3092.9 1234.2,3094.2 1234.7,3091.7 1235.4,3092.2 1236.1,3093.5 1236.7,3091.3 1237.6,3088.9 1238.3,3093.6 1238.8,3089.3 1239.3,3090 1239.9,3093.2 1240.8,3088.3 1241,3087 1241.3,3089.3 1241.8,3090.8 1242.4,3091.3 1243,3090.8 1243.7,3091.7 1244.2,3088.9 1244.7,3087.7 1245.4,3089.1 1245.9,3088.5 1246.3,3092.6 1246.7,3089.5 1247.5,3092.5 1248.1,3088.6 1248.7,3093.2 1249.2,3092.8 1249.7,3091.3 1250.1,3088.3 1250.7,3090.8 1251.4,3089.3 1252.1,3091.7 1252.7,3091.6 1253.1,3091.7 1253.8,3088.3 1254.6,3090.3 1255.2,3094.2 1255.8,3092.3 1256.5,3093.8 1257,3091.4 1257.8,3089.6 1258.5,3093.6 1259.2,3089.2 1259.9,3092.6 1260.5,3093.9 1261.3,3088.9 1261.9,3090.6 1262.7,3093.8 1263.5,3091.5 1264,3095.1 1264.5,3092.4 1265.2,3094.3 1266.1,3094.6 1266.7,3096.3 1267.5,3096.7 1268.4,3094.9 1269,3095.2 1269.5,3093.5 1270.4,3094.5 1271.1,3098.8 1271.9,3098.3 1272.7,3099.1 1273.3,3096.2 1273.8,3098 1274.2,3101.1 1274.7,3096.2 1275.5,3098.5 1276.1,3098.7 1276.8,3100.7 1277.5,3098.9 1277.9,3102.2 1278.5,3102.9 1279,3101 1279.5,3101.5 1280,3101.6 1280.5,3101.5 1280.9,3101.6 1281,3105 1281.4,3099.2 1282.1,3100.3 1282.6,3098.1 1283.4,3095.6 1284.1,3095.7 1285,3091 1285.8,3092.7 1286.4,3090 1287.2,3088.5 1287.8,3088 1288.7,3089.2 1289.1,3085 1289.9,3085.2 1290.6,3085.1 1291,3095 1291.1,3087.2 1291.5,3093.2 1292.1,3087.6 1292.7,3093.9 1293.4,3086.3 1293.9,3089.5 1294.5,3090.4 1294.9,3078.4 1295.7,3081.9 1296.5,3085.9 1297.3,3089.4 1298.1,3081.8 1298.9,3091.5 1299.7,3090.7 1300.3,3070.8 1300.7,3087.5 1301.2,3085.2 1301.6,3070.5 1302.4,3082.7 1303,3077.2 1303.4,3092.2 1304.2,3084.6 1304.8,3066.9 1305.7,3079.8 1306.1,3084.9 1307,3066.9 1307.5,3068.5 1308,3079.4 1308.5,3066.8 1309.3,3087.6 1310,3088 1310.8,3092.6 1311.3,3070.5 1311.8,3064.6 1312.6,3070.5 1313.1,3070.9 1313.9,3079.3 1314.3,3087 1314.8,3069.8 1315.3,3088.5 1315.8,3071.1 1316,3059 1316.6,3082.1 1317.3,3065.2 1318,3088.1 1318.5,3065.8 1319.2,3087.5 1319.9,3093.8 1320.7,3083.9 1321.4,3082 1321.8,3080.5 1322.3,3090.6 1323.1,3095.5 1323.6,3078.7 1324.1,3091.2 1324.7,3094 1325.6,3076.3 1326,3088.6 1326.7,3091 1327.6,3089.5 1328,3088.9 1328.7,3093.3 1329.4,3086.6 1330.1,3092.1 1330.8,3090.3 1331.5,3087.2 1331.9,3090.4 1332.4,3093.3 1332.9,3096 1333.7,3092.8 1334.4,3099.4 1335,3099.7 1335.7,3096.7 1336.1,3095.7 1336.8,3096 1337.6,3100.4 1338.1,3102.2 1338.7,3097.7 1339.3,3099.7 1340.1,3101.8 1340.9,3096.5 1341.6,3094.1 1342.1,3101.2 1342.6,3102.4 1343.1,3096.1 1343.8,3100.1 1344.4,3102.1 1345.2,3101.3 1345.7,3101.5 1346.4,3094.2 1347.2,3102.7 1347.8,3099.4 1348.3,3092.8 1348.7,3098.2 1349.4,3092.8 1349.9,3098.7 1350.6,3103.3 1351.1,3094 1351.6,3099.5 1352.1,3099.2 1352.5,3103.6 1353,3104 1353.4,3095.5 1354.1,3101.1 1354.6,3097.4 1355.1,3098.2 1355.9,3099 1356.5,3091.7 1357.2,3102.5 1357.8,3095.1 1358.2,3098.6 1358.9,3092 1359.5,3091.5 1360.2,3097.3 1361,3097.2 1361.7,3099.1 1362.3,3099.3 1362.9,3099.4 1363.4,3098.6 1364,3097.2 1364.6,3087.9 1365.3,3089.4 1365.8,3095.6 1366.2,3091.3 1366.8,3096.8 1367.1,3098 1367.6,3094.9 1368.5,3090.1 1369,3094.9 1369.4,3086.6 1370,3088.8 1370.7,3086.5 1371.1,3094.8 1371.7,3098.1 1372.5,3094.3 1373.3,3091.2 1373.7,3092.9 1374.2,3098.1 1374.6,3089.5 1375,3093.7 1375.6,3090 1376,3087.3 1376.5,3086.8 1377.2,3095.6 1377.7,3093.4 1378.5,3091.2 1379,3083.6 1379.5,3092.7 1380.1,3093.7 1380.5,3096.7 1381.1,3087.6 1381.9,3080.5 1382.4,3085.4 1383.3,3092.8 1384,3084.9 1384.9,3081.1 1385.3,3085 1385.8,3088.4 1386.3,3094.6 1386.9,3089.7 1387.5,3090.4 1388,3088.1 1388.6,3092.1 1389.3,3090.6 1389.7,3088.6 1390.3,3091.9 1391,3081.4 1391.6,3081 1392,3086.7 1392.6,3092.8 1393.2,3092.8 1393.8,3082.2 1394.4,3087.1 1394.9,3092.9 1395.4,3075.2 1396.1,3087.7 1396.8,3089 1397.4,3079.8 1398.3,3084.8 1398.9,3072.1 1399.7,3078.4 1400.4,3082.9 1401,3085.6 1401.7,3071.8 1402.3,3070.8 1402.7,3088.1 1403.3,3084 1403.9,3068.2 1404.3,3086.3 1404.8,3074.5 1405.3,3090.6 1406,3080.8 1406.5,3078 1407.2,3076.3 1407.8,3075.5 1408.6,3064.2 1409.2,3080.5 1410,3081.1 1410.7,3070 1411.5,3061.9 1412.2,3084.6 1412.9,3074.6 1413.6,3077.9 1414.1,3066.1 1414.7,3081.4 1415.2,3078.5 1415.7,3072.3 1416.1,3086.4 1416.6,3085.1 1417.3,3084.5 1417.9,3062.6 1418.5,3082.5 1419.3,3058.2 1419.7,3079 1420.3,3059.9 1420.9,3062.3 1421.4,3062 1421.9,3075.3 1422.7,3056.5 1423.5,3066 1424.1,3060.5 1424.8,3055.3 1425.5,3081.7 1426.1,3060.5 1426.6,3079.1 1427,3063.2 1427.8,3047.3 1428,3046 1428.3,3058.6 1428.8,3061.1 1429.4,3049.6 1430.3,3083.8 1431,3081.2 1431.4,3074.9 1432.2,3049.3 1432.6,3073.5 1433,3066 1433.6,3072.1 1434.1,3057.4 1434.9,3075.4 1435.5,3064.3 1436.2,3052.7 1436.8,3062.4 1437.5,3059.3 1437.9,3079.2 1438.3,3055.6 1438.8,3069.6 1439.3,3074.7 1439.7,3067.5 1440.1,3065.9 1440.6,3077.7 1441.2,3073.8 1441.7,3082.7 1442.1,3059.4 1442.7,3081.9 1443.1,3070.9 1444,3078.4 1444.8,3070.5 1445.4,3061.4 1446,3082.1 1446.6,3065.3 1447.3,3075.7 1448.2,3058.9 1449,3070.7 1449.8,3062.4 1450.3,3082.5 1450.7,3079.7 1451.2,3072.7 1451.9,3074 1452.5,3082.7 1453,3054.5 1453.4,3067.2 1454.2,3059.1 1454.9,3070.7 1455.7,3057.5 1456.5,3052.5 1456.9,3053.4 1457.5,3060.8 1458,3054.3 1458.4,3064.5 1458.8,3070.2 1459.4,3061.7 1460.2,3070.7 1460.9,3070.9 1461.4,3053.2 1461.9,3079 1462.5,3057.9 1462.9,3057.5 1463.6,3059.2 1464.1,3078.1 1464.5,3069.7 1465.1,3081.2 1465.7,3067.4 1466.3,3062.4 1467.1,3073.9 1467.9,3069.4 1468.7,3077 1469.5,3064.6 1470.4,3072.3 1471,3053.1 1471.4,3069.9 1472.2,3042.7 1472.7,3073.1 1473.2,3040 1473.7,3054.2 1474.3,3053.4 1474.7,3054.3 1475.6,3043.5 1476.3,3058.2 1476.9,3074.7 1477.7,3049.4 1478.3,3050.1 1478.9,3062 1479.4,3052.3 1480,3055.7 1480.4,3050.6 1481,3051.8 1481.7,3036.5 1482.2,3056.7 1483,3044.3 1483.6,3044 1484.4,3058.5 1485.2,3070.5 1486.1,3053.6 1486.6,3037.6 1487.3,3032.8 1488.1,3038.7 1488.7,3029.3 1489.1,3034.7 1489.9,3062.7 1490.6,3053 1491.3,3033.7 1491.8,3060.5 1492.4,3069.7 1493.1,3036.2 1493.7,3061.3 1494.5,3032.2 1495.3,3046.2 1496.1,3034 1496.5,3054.1 1497,3069.5 1497.5,3030 1498.3,3065.1 1498.8,3052 1499.6,3040.6 1500.4,3066.5 1501.3,3059.6 1501.9,3024.7 1502.7,3059.5 1503.4,3046.5 1503.8,3051.3 1504.3,3034.6 1504.8,3035.5 1505.5,3059.4 1506,3028.8 1506.6,3062.2 1507,3012.3 1507.7,3047.6 1508.2,3006.8 1508.9,3022.2 1509.5,3049.5 1510,3060.2 1510.7,3041 1511.5,3041.4 1512.1,3034 1513,3044.8 1513.7,3052.6 1514.4,3048.6 1515.2,3048 1516,3017 1516.6,2995.8 1517.1,3010.1 1517.8,3033.3 1518.2,3035.4 1518.7,3033.1 1519.6,3045 1520,2984 1520.3,3012.5 1520.8,3034.9 1521.3,2994.9 1521.8,3034.4 1522.3,3002.6 1523.1,3021.6 1523.7,3059.7 1524.6,3060.1 1525.1,3039 1525.9,3018.2 1526.4,3002.8 1527.3,3063.2 1528,3033.4 1528.5,3033.9 1529,3021.2 1529.7,3003.5 1530.6,3003.7 1531.2,3013.4 1531.9,3018.4 1532.7,3055 1533.3,3032.4 1534,3042.6 1534.9,3041.3 1535.5,3044.7 1536,3000.9 1536.5,3041 1537.2,3005.7 1537.9,3031.4 1538.7,2992.2 1539.4,3038.6 1540.1,3045.9 1540.9,2966.5 1541.7,3042.4 1542,2957 1542.2,2997.4 1542.9,3034.1 1543.6,3017.5 1544.3,3032.6 1544.9,3032 1545.4,2999.2 1545.9,2976.5 1546.4,3007.5 1546.8,3024.1 1547.4,2995.2 1548,2970.5 1548.4,2970.5 1548.9,2960.5 1549.5,3007.8 1550.2,2969.5 1551,3007.1 1551.4,3028.6 1552.2,2980.4 1552.9,3028 1553.6,3038.4 1554,3016 1554.9,2987.9 1555.7,3036.4 1556.2,3033.4 1556.7,3030.3 1557.6,3012.1 1558.2,2985.3 1559,2961.1 1559.7,2996.4 1560.5,3004.3 1561,2976.2 1561.5,3005.6 1562.1,2996.4 1562.7,2999.6 1563.3,3029.7" fill="none" stroke="#1A6FDF" stroke-width="4.6" stroke-linejoin="round"/>
<polyline points="1564,3005.9 1564.5,2973.4 1565,3008.9 1565.3,3011.2 1565.7,2962.7 1566,2978 1566.3,2996.9 1566.7,2947.6 1567.1,3020.2 1567.5,3007.4 1568,2941.4 1568.5,2936.4 1569,2915 1569,2920.4 1569.5,2994.2 1570.1,2972.1 1570.6,2966 1571,2986.8 1571.4,2992.6 1571.6,2945.3 1572.2,2932.2 1572.6,2973.8 1573.1,3012.7 1573.6,2986.6 1573.9,3008.2 1574.4,3004.8 1574.8,2976.4 1575.1,3016.4 1575.6,3008.7 1575.9,3012.6 1576.3,3022.7 1576.7,2954.9 1577.1,2973.9 1577.7,3027.6 1578,2968.6 1578.5,2982.6 1578.8,3000.7 1579.3,2964.8 1579.8,3019 1580.4,3006.6 1580.9,3026 1581.4,2990.6 1581.9,3022 1582.4,2994.1 1582.8,3012.1 1583.3,3014.4 1583.7,3028.8 1584.2,3033.7 1584.5,3037.7 1584.9,3000.5 1585,3044 1585.4,3040.7 1585.8,3014.7 1586.1,3043.3 1586.6,3032.2 1587,3017.7 1587.4,3035.4 1587.8,3005.5 1588.4,3042 1588.7,2988.2 1589.3,2983.3 1589.7,2963.4 1590.1,3038.1 1590.5,2928.9 1591,3008.5 1591.5,2929.1 1591.8,2961.9 1592.2,3007.4 1592.5,3012.2 1592.9,3035.4 1593.3,3027.9 1593.8,2949.6 1594,2921.5 1594.3,2965.1 1594.8,2986.8 1595,2878 1595.1,2970.4 1595.4,2906.5 1595.7,2917.1 1596,2997.4 1596.4,3037.2 1596.7,2994 1597.1,2931.5 1597.7,3038.4 1598.1,3029.9 1598.6,3012.1 1599.2,2995.3 1599.4,3045.5 1599.8,2975.6 1600.1,3010.1 1600.5,3023 1601,3034.8 1601.5,3007.6 1602,3016.8 1602.6,3022 1603,3011.1 1603.5,2994.2 1603.8,3041.6 1604.3,2999.8 1604.7,3032 1605.3,3032.5 1605.5,3048.1 1605.8,3005.8 1606.1,3006.6 1606.6,2988.9 1607.1,3025.6 1607.6,2999.8 1608.1,3034.7 1608.6,3046.7 1609,2989.9 1609.4,3037 1609.9,3025.5 1610.1,3052.9 1610.5,3033.5 1611,3039.4 1611.6,3000.1 1611.9,2991.1 1612.4,3024.7 1612.8,3026.4 1613,3057 1613.3,3021.6 1613.6,3032.1 1614.1,3043.9 1614.5,3053.5 1615,3044.1 1615.3,3018.7 1615.7,3000.7 1616.1,3022.9 1616.6,3041.2 1617.1,3015.6 1617.5,2997.8 1617.7,3003.6 1618,3005.1 1618.3,3049.3 1618.8,3000.9 1619.1,3025.1 1619.6,3038.2 1620,3050.4 1620.4,3010.9 1620.7,3038.9 1621,3014.2 1621.4,3001.7 1621.9,3043.6 1622.5,2996.2 1623,2999.7 1623.5,3004.4 1623.9,3010.7 1624.3,3038.1 1624.8,3007.7 1625,3003.9 1625.5,3011 1626,2984.7 1626.4,2987.4 1626.8,3003 1627.2,2975.7 1627.6,2972.6 1627.9,2992 1628.5,2989.2 1628.9,3035.2 1629.3,3007.9 1629.8,2976.5 1630.4,3002.4 1630.8,2991.2 1631.3,3033.6 1631.6,3027.5 1631.9,3012.6 1632.5,3021 1633.1,3011.6 1633.4,2939 1633.7,3030.4 1634,3035.4 1634.3,3019.1 1634.6,3041.5 1635.1,3037.8 1635.4,2975.5 1636,2962 1636.5,2954.8 1637,2932.4 1637,2913 1637.3,3038.5 1637.8,2980.2 1638.2,2949.4 1638.5,2960.7 1638.9,2997.4 1639.2,3015.5 1639.7,2985.4 1640.2,3019.1 1640.7,3040.9 1641.2,3035.2 1641.7,2953.1 1642,2971.7 1642.4,3024 1642.6,3011.7 1642.9,2987.6 1643.4,3016.9 1643.9,3036 1644.2,3025.6 1644.5,2980.9 1644.7,3050.1 1645.3,2992.2 1645.7,3026.7 1646,3060.8 1646,3061 1646.4,3041.8 1646.7,2990.7 1646.9,3032.5 1647.4,3003.1 1647.7,3003.5 1648.2,3012.1 1648.7,2999.6 1649.2,3001.8 1649.6,3017.9 1650.1,3013 1650.5,3056.2 1651,3033 1651.4,3036.6 1651.8,3028.5 1652.4,3014.9 1652.8,3001.9 1653.2,3018.9 1653.7,3006.3 1654.2,2995.1 1654.6,3017.6 1654.9,3038.4 1655.3,3021.3 1655.9,3050.8 1656.2,3005.7 1656.6,2998.9 1657,3003.9 1657.3,3016.8 1657.6,3027.1 1658.1,3005.8 1658.6,3023.9 1658.8,3004.9 1659.2,3001.4 1659.7,3021.8 1660.2,3039.8 1660.8,3042.2 1661.4,3002.1 1661.8,2972.5 1662.2,3005.3 1662.5,2980.1 1662.9,3025.7 1663.2,3009.3 1663.8,2967 1664.2,3041.6 1664.7,3025.4 1665.2,2996.1 1665.8,3028.9 1666.3,2970.8 1666.5,2985.5 1666.9,2971.1 1667.5,2972.1 1667.9,2977.2 1668.2,2990.8 1668.5,2962.4 1668.8,2982.7 1669.1,2977.7 1669.3,3037.1 1669.8,2957.6 1670.3,2960.5 1670.9,3021.8 1671.4,2961.6 1671.7,3021 1672,2973.3 1672.5,2948.3 1673,3027.1 1673.5,2970.4 1673.8,2955.8 1674.1,2994.7 1674.5,2929.1 1674.8,2969.8 1675.1,2931.3 1675.6,2990.2 1676.1,2952.2 1676.5,2982.6 1676.9,2879.3 1677.3,3030.9 1677.9,2909.5 1678,2819 1678.2,2980.1 1678.6,2891.1 1679,3003 1679.5,2947.6 1679.8,2868 1680.1,2965.3 1680.5,2917.2 1681.1,3001.7 1681.5,2894.7 1681.9,2924.8 1682.3,2929.2 1682.9,2985.3 1683.4,2982.7 1683.9,2919 1684.5,2895.7 1684.9,2877.3 1685.2,2934.2 1685.5,2930 1686,2977.3 1686.5,2950.5 1686.8,2990.1 1687.3,2951.5 1687.5,2965.2 1688,2821 1688.1,2930 1688.6,2944.5 1688.9,2913.9 1689.2,3003.5 1689.6,2916.1 1689.9,2879.1 1690.1,2999.9 1690.5,2914.8 1691,2931.8 1691.4,2912.2 1691.7,2907.3 1692,3002.7 1692.5,2931.7 1692.9,2989.9 1693.5,2960.8 1693.8,3004.2 1694.4,3006.7 1694.7,2976.5 1695.2,2932 1695.8,2951.1 1696,2942.1 1696.3,2924.9 1696.9,2998 1697.4,2981.1 1697.7,2921.1 1698.1,2971.6 1698.5,2992.8 1698.9,2925.5 1699.5,2982.7 1700,2982.6 1700.3,2950.1 1700.6,2982.2 1701.1,2934.2 1701.4,2913.3 1701.7,2883.3 1702.3,2911.9 1702.7,2920.1 1703,2912.7 1703.3,2923.5 1703.8,2858.3 1704.1,2940 1704.6,2858.4 1705.2,2734 1705.6,2816.7 1706.1,2770.3 1706.5,2477.3 1706.8,2846.2 1707.3,2406 1707.8,2399 1708.1,2469 1708.4,2251 1708.4,2357.8 1708.8,2612.9 1709.2,2796.5 1709.7,2402.5 1710.1,2656.4 1710.4,2790.1 1710.8,2463.7 1711.3,2695.5 1711.7,2712.1 1712.2,2739.6 1712.5,2719.1 1712.8,2772.8 1713.1,2616 1713.7,2742.1 1714.1,2645.8 1714.3,2799.5 1714.8,2690.3 1715.1,2709 1715.4,2758.1 1715.7,2767.4 1716,2598.7 1716.2,2720.5 1716.5,2785.9 1717,2569 1717.6,2764.7 1718,2744.3 1718.3,2752.4 1718.8,2768.3 1719.3,2765.3 1719.6,2647.8 1720.1,2833.7 1720.6,2783.4 1721.1,2795.7 1721.6,2736.7 1722,2841.8 1722.5,2727.1 1723,2726.6 1723.4,2846.3 1723.7,2885.6 1724,2735.4 1724.5,2935.8 1724.8,2862.1 1725.3,2775.1 1725.8,2902.7 1726.2,2773.3 1726.6,2840.2 1726.8,2877.5 1727.3,2801.9 1727.8,2841.5 1728.2,2822.9 1728.8,2967.4 1729.1,2881.7 1729.5,2939.2 1730,2946.2 1730.4,2982.6 1730.8,2806 1731.1,2968 1731.6,2815.4 1732.1,2934.5 1732.4,2850.4 1732.9,2906.6 1733.3,2975.5 1733.7,2822.6 1734.3,2901 1734.8,2821.5 1735.2,2971.7 1735.5,2865 1735.9,2894.9 1736,2798 1736,3003 1736.1,2809.3 1736.5,2874.2 1736.9,2930.8 1737.2,2890.5 1737.6,2985.7 1737.9,2992.7 1738.5,2961.1 1739,2883.8 1739.6,2912.4 1739.9,2982.2 1740.4,2873.8 1740.9,2837.9 1741.1,2884.6 1741.6,2836 1742,2839.2 1742.2,2896.9 1742.6,2909.1 1742.9,2931.3 1743.2,2919.2 1743.6,2958 1743.9,2919.6 1744.5,2863.4 1744.8,2896.3 1745.1,2942.2 1745.7,2940.5 1746,2907.8 1746.4,2915.5 1747,2915.4 1747.4,2960.7 1747.8,2881.4 1748.2,2934.1 1748.6,2866.5 1749.1,2905.4 1749.6,2944.6 1749.9,2984.8 1750.4,2856.1 1750.9,2892.9 1751.4,2932.3 1751.8,2955.3 1752.3,2890.7 1752.7,2877.4 1753.3,2988.6 1753.6,2924.9 1754.1,2959.4 1754.5,2895.4 1754.9,2894.6 1755.1,2933.9 1755.6,2865.2 1756,2895.7 1756.5,2898.5 1756.9,2949.3 1757.2,2862 1757.7,2898.3 1758.2,2950.4 1758.5,2916.9 1758.9,2899.1 1759.4,2938.9 1759.8,2890.7 1760,3000 1760.4,2912.2 1760.8,2861.8 1761.4,2992 1761.9,2984 1762.4,2921.8 1763,2962.2 1763.2,2851.8 1763.6,2927.7 1764,2955 1764.3,2912.7 1764.6,2921.2 1765.2,2848.3 1765.5,2945.6 1765.8,2904.6 1766.1,2976.4 1766.7,2911.7 1767.2,2962.6 1767.5,2908.7 1768,2967.5 1768.4,2910.8 1768.9,2947.1 1769.3,2976.7 1769.5,2984 1770.1,2955.9 1770.5,2975.2 1771.1,2987.4 1771.6,2914.4 1772.2,2862.7 1772.4,2983.2 1772.7,2983.9 1773.3,2969.1 1773.8,2846.3 1774.2,2832.9 1774.7,2927.1 1775.3,2954.1 1775.7,2918.1 1776.1,2937.4 1776.7,2804.1 1777.2,2895.1 1777.8,2800.5 1778,2810.3 1778.3,2973.4 1778.7,2913.8 1779.1,2784.3 1779.4,2849.4 1779.8,2965 1780.4,2778.5 1780.7,2785.4 1781.1,2829.5 1781.7,2833.7 1782,2739 1782.1,2981.7 1782.5,2851.1 1782.8,2854.7 1783.1,2935 1783.5,2883 1784,2943.8 1784.3,2833.5 1784.6,2964.4 1785.1,2923.5 1785.5,2799.1 1786.1,2842.6 1786.7,2849.3 1787.1,2828.1 1787.4,2962 1787.8,2978.4 1788,3000 1788.2,2907 1788.5,2873 1788.8,2916.1 1789.2,2839.2 1789.5,2933.9 1790,2946.6 1790.5,2978.6 1790.8,2995.5 1791.2,2915.2 1791.6,2916 1792.2,2959.4 1792.5,2953.6 1793,2856.2 1793.3,2995.4 1793.9,2828.1 1794.2,2903 1794.5,2906.7 1794.8,2876.4 1795.1,2896.5 1795.4,2910.4 1796,2902.6 1796.6,2867.8 1796.9,2948.7 1797.4,2857.1 1797.7,2851 1798.1,2892.8 1798.6,2831 1798.9,2966 1799.3,2884.8 1799.8,2875.9 1800,2815 1800.3,2846.6 1800.7,2924.9 1801.3,2882.9 1801.8,2818.6 1802.2,2931.5 1802.5,2890.6 1802.9,2937.1 1803.3,2866.9 1803.8,2913.2 1804.2,2885.2 1804.8,2876.6 1805.3,2951.5 1805.8,2991.1 1806.4,2989.9 1806.8,2947 1807.1,2869.7 1807.4,2880.4 1807.7,2958.5 1808.1,2899.3 1808.5,2934.3 1809.1,2988.6 1809.4,2929.6 1809.9,2887.8 1810.4,2937.4 1810.9,2883.2 1811.2,2935.2 1811.6,2898.5 1812,2972.3 1812.3,2942.4 1812.6,2872.7 1813.1,2879.4 1813.5,2902.7 1813.7,2961.9 1814,2995 1814.1,2901.2 1814.5,2906.4 1814.8,2910.5 1815.3,2842.2 1815.7,2913.4 1816.2,2985 1816.7,2973.4 1817.2,2857.5 1817.5,2983.6 1818,2927.2 1818.5,2865.4 1818.8,2969.4 1819.3,2914.2 1819.7,2802.4 1820.3,2920.9 1820.6,2797.9 1821,2763.4 1821.4,2973.6 1821.8,2752.5 1822.2,2726.7 1822.7,2797.9 1823,2865.8 1823.3,2885.4 1823.6,2717.4 1823.9,2877 1824.2,2928.2 1824.7,2854.1 1825.1,2731.1 1825.6,2901.2 1826.1,2757.9 1826.5,2801.5 1827.1,2757.8 1827.3,2674 1827.8,2849.9 1828.3,2613.2 1828.8,2757.9 1829.3,2890.5 1829.6,2767.1 1830,2668 1830.5,2704.4 1830.9,2610.3 1831.3,2812 1831.7,2700.8 1832.3,2586.2 1832.8,2544.1 1833.3,2574.5 1833.6,2618.4 1834.2,2805.9 1834.6,2653.9 1835,2372 1835.1,2760.3 1835.5,2792.9 1836.1,2801.9 1836.6,2496.8 1837,2709.7 1837.4,2436.4 1837.8,2579.6 1838.4,2611.6 1838.9,2563.6 1839.4,2553.9 1839.7,2708.7 1840,2708.4 1840.5,2631.3 1840.9,2776.2 1841.4,2587.9 1841.8,2510.9 1842,2689.1 1842.6,2476.7 1843,2658.1 1843.5,2599.7 1843.8,2571.7 1844.3,2567.7 1844.6,2335 1845,2584.2 1845.3,2288.5 1845.7,2406.5 1846.2,2569 1846.5,2495.1 1847,2506.8 1847.4,2273.9 1847.8,2303 1848.1,2348.2 1848.5,2259.2 1848.8,2234.1 1849.4,2087.2 1849.9,2131.9 1850.5,2209.1 1850.5,1952" fill="none" stroke="#37AD6B" stroke-width="4.6" stroke-linejoin="round"/>
<polyline points="1848.5,2325.8 1848.9,2049.6 1849.2,2179.5 1849.6,2245.3 1849.8,2540.6 1850,2022 1850.1,2192.7 1850.4,2339.3 1850.7,2127.7 1851.1,2393.7 1851.6,2535.3 1852,2108.6 1852.2,2219.8 1852.6,2053.6 1852.8,2320.1 1853,2022 1853.3,2266.1 1853.6,2534.3 1854,2369 1854.5,2519.6 1854.9,2189.3 1855.3,2555.7 1855.6,2550.2 1856,2446.8 1856.5,2441.5 1856.9,2201.4 1857.2,2366.4 1857.6,2385.8 1857.9,2491.8 1858.3,2521 1858.7,2385.5 1859,2549.5 1859.4,2212.6 1859.7,2491.3 1860.1,2391.2 1860.4,2595.4 1860.8,2499.7 1861.1,2532.9 1861.5,2330.7 1861.8,2603.7 1862.3,2248.9 1862.5,2435.1 1862.8,2517.3 1863.2,2273 1863.6,2544 1863.8,2598.5 1864.1,2642.2 1864.3,2385.9 1864.7,2418.2 1865.1,2436.3 1865.3,2399.2 1865.6,2471.8 1866,2530.8 1866.3,2694.8 1866.5,2544 1866.8,2582.6 1867.1,2691.9 1867.3,2520.1 1867.7,2640 1868,2590.5 1868.3,2632.9 1868.8,2522.6 1869.1,2685.1 1869.3,2674.4 1869.5,2532.1 1869.9,2662.9 1870.3,2702 1870.7,2455.8 1871,2603.4 1871.3,2424.7 1871.7,2733.4 1872,2624.3 1872.3,2657.9 1872.6,2638.3 1873,2553 1873,2836 1873.3,2698.4 1873.6,2658.8 1874,2827.1 1874.2,2439.9 1874.6,2683.5 1875,2772.1 1875.3,2660.5 1875.7,2810.7 1876,2485.1 1876.4,2443.1 1876.6,2484.7 1877,2799.9 1877.4,2553.4 1877.6,2599.8 1878.1,2538 1878.4,2783.9 1878.7,2752.7 1879.1,2728.1 1879.4,2636.1 1879.8,2460.3 1880.1,2777.3 1880.5,2701.3 1880.9,2524.8 1881.1,2564.9 1881.4,2705.5 1881.7,2636.1 1881.9,2651 1882.2,2753.6 1882.5,2585.7 1882.8,2735.6 1883.1,2731.9 1883.5,2547.5 1883.8,2710.3 1884.1,2640 1884.4,2641.5 1884.8,2742.1 1885.1,2739.3 1885.5,2701.9 1885.9,2517.6 1886.3,2676.3 1886.7,2735.3 1887.1,2557.9 1887.4,2698.5 1887.8,2568.8 1888.2,2705.7 1888.5,2714.3 1888.7,2755.8 1889,2650.8 1889.3,2523.8 1889.6,2729.4 1890,2745.3 1890.3,2567.6 1890.6,2497.8 1891,2699.9 1891.4,2510.3 1891.8,2737.3 1892,2545.7 1892.4,2600.7 1892.9,2552.5 1893.1,2725.4 1893.5,2534.6 1893.9,2713.1 1894.1,2677.4 1894.5,2730.1 1894.8,2761.8 1895.2,2759.2 1895.5,2651.6 1895.9,2718.8 1896.1,2507.4 1896.6,2560.6 1896.8,2733.1 1897.1,2511.4 1897.6,2728.9 1898,2687.6 1898.3,2738.1 1898.7,2545.2 1899.1,2654.6 1899.4,2596.6 1899.7,2503.5 1900,2778 1900.1,2732.3 1900.4,2645.9 1900.8,2556.1 1901.1,2433.5 1901.5,2462.2 1901.9,2619.5 1902.2,2381.7 1902.5,2379.3 1902.7,2741.5 1903.1,2695.5 1903.3,2733.3 1903.6,2597.2 1903.8,2650.7 1904.2,2658.2 1904.4,2606.7 1904.7,2516.4 1905,2266 1905.1,2713.5 1905.5,2525.5 1905.9,2442.2 1906.2,2488.6 1906.6,2313 1907,2691.4 1907.3,2556.8 1907.6,2425.7 1907.9,2312.7 1908.1,2404.8 1908.4,2542.6 1908.6,2598.8 1909,2334.9 1909.2,2595.9 1909.4,2446.2 1909.7,2661.9 1910.1,2697.4 1910.5,2639.5 1911,2683.3 1911.2,2567.8 1911.5,2502.6 1911.8,2619.5 1912,2684.9 1912.2,2577.6 1912.6,2555.8 1912.9,2588.9 1913.3,2424 1913.5,2524.8 1913.8,2402.7 1914.2,2557.1 1914.6,2488.8 1914.8,2665.2 1915,2718.4 1915.4,2581.9 1915.7,2688.2 1916,2751.2 1916.4,2669.9 1916.6,2622.1 1917,2518.7 1917.2,2727.6 1917.6,2672.4 1917.8,2536.3 1918.2,2494.4 1918.6,2652.4 1919,2743.6 1919.2,2746.4 1919.6,2746.9 1919.9,2512.6 1920.3,2752.5 1920.5,2795 1920.7,2735.8 1921.1,2511.6 1921.4,2793.3 1921.7,2458.9 1921.9,2605.4 1922.4,2723.5 1922.8,2529.7 1923.2,2772.3 1923.6,2631.5 1923.9,2628.1 1924.4,2641.4 1924.8,2794.6 1925,2789.2 1925.3,2585.3 1925.8,2816.7 1926,2720.1 1926.4,2714.8 1926.6,2778.1 1927,2634.6 1927.5,2741 1927.8,2468.9 1928.2,2763.9 1928.6,2698.3 1928.8,2809.5 1929.1,2749 1929.4,2578.7 1929.7,2697.3 1930,2831.5 1930.4,2766.3 1930.7,2671 1930.9,2831.4 1931.2,2830.8 1931.5,2747.2 1931.7,2799 1932.1,2643.1 1932.5,2840 1933,2838.2 1933.4,2604.4 1933.7,2747 1934,2638.9 1934.4,2838.5 1934.7,2617 1934.9,2638.7 1935.2,2845.7 1935.7,2805.5 1935.9,2552.2 1936,2853 1936.4,2482.4 1936.8,2748.3 1937.1,2683.6 1937.5,2581.6 1937.9,2545.2 1938.1,2617.1 1938.5,2434 1938.7,2621.3 1939.1,2527.8 1939.5,2497.4 1939.8,2358 1940,2500.3 1940.2,2797.5 1940.5,2790.8 1940.8,2338.5 1941.2,2680.5 1941.5,2556 1941.8,2773.1 1942.1,2395.6 1942.6,2536.6 1943,2276 1943,2636.9 1943.4,2407.5 1943.9,2740.1 1944.2,2779.9 1944.6,2610.2 1944.9,2579 1945.2,2757.2 1945.5,2436.6 1945.8,2320.2 1946.2,2709.3 1946.5,2430.6 1946.7,2448.7 1947,2505.2 1947.2,2520.3 1947.4,2700 1947.8,2530.6 1948.1,2710.2 1948.4,2692.2 1948.7,2713.8 1949,2469.5 1949.4,2652.5 1949.9,2673 1950.3,2440.9 1950.7,2387.7 1951.1,2406.5 1951.3,2606.8 1951.7,2595.5 1951.9,2716 1952.3,2673.4 1952.6,2497.3 1953,2762.1 1953.3,2394.9 1953.6,2776 1954,2680.3 1954.3,2616.3 1954.7,2594.9 1955,2797 1955.3,2726.4 1955.7,2430.4 1956.2,2415.8 1956.5,2566.6 1956.8,2618.3 1957.2,2749.8 1957.4,2797.3 1957.8,2768.7 1958.2,2569.2 1958.5,2443 1958.7,2760.1 1959.1,2700.8 1959.6,2652.9 1959.8,2441.9 1960.2,2674.3 1960.6,2576.2 1960.8,2544.3 1961.2,2576.6 1961.4,2698.3 1961.6,2470.7 1961.8,2810.9 1962.1,2530.4 1962.4,2594.1 1962.8,2634.6 1963.1,2574.4 1963.3,2755.6 1963.8,2772.4 1964,2793.2 1964.4,2509.6 1964.6,2680.5 1965,2805.8 1965.4,2753.9 1965.7,2514.7 1966.2,2746.6 1966.4,2687.5 1966.9,2774.8 1967.1,2732.2 1967.6,2761.2 1967.8,2729.6 1968.2,2783.6 1968.6,2791.9 1968.9,2746.7 1969.4,2510.2 1969.7,2735.6 1970,2655.8 1970.3,2829.1 1970.5,2679.2 1970.8,2806.2 1971.2,2521.5 1971.6,2787.1 1971.9,2639.7 1972.3,2819.6 1972.6,2770.7 1973.1,2533.3 1973.4,2528.9 1973.6,2791.7 1974,2765.4 1974.5,2687.1 1974.9,2550.1 1975,2847 1975.3,2772.9 1975.6,2762.8 1975.8,2770 1976.2,2731.6 1976.4,2579 1976.8,2527.7 1977.2,2755.8 1977.6,2615.3 1977.9,2653 1978.2,2769.9 1978.4,2714.7 1978.8,2798.1 1979.2,2497.2 1979.5,2805.5 1979.7,2624.1 1980.1,2704.7 1980.5,2767.3 1980.8,2772.6 1981,2824.6 1981.5,2794.5 1981.7,2597.7 1982,2644.4 1982.2,2812 1982.5,2432.4 1982.8,2788.6 1983,2400 1983.2,2532.7 1983.5,2545.8 1983.8,2759 1984.1,2740.7 1984.4,2534.4 1984.9,2578.1 1985.1,2554.9 1985.4,2782.8 1985.7,2409.2 1986,2570.1 1986.4,2590.1 1986.7,2581.9 1987,2736.5 1987.3,2795.4 1987.6,2453.9 1987.9,2684.4 1988.3,2486.1 1988.7,2766.9 1989,2790.2 1989.3,2539.8 1989.5,2428.6 1989.8,2649.2 1990.2,2637.3 1990.5,2642 1991,2612 1991.4,2496.6 1991.9,2448.2 1992.2,2673.4 1992.5,2733.2 1992.8,2538.6 1993.1,2780.3 1993.4,2630.2 1993.7,2486 1993.9,2767.9 1994.4,2664.6 1994.6,2771.8 1995,2473.4 1995.3,2699.3 1995.7,2599.5 1996.1,2784.3 1996.5,2462.9 1996.8,2540.6 1997.1,2733.6 1997.5,2741.6 1997.8,2716 1998,2510.4 1998.3,2492.7 1998.6,2606.1 1998.9,2724 1999.2,2508 1999.6,2745.5 1999.9,2606.8 2000.4,2698.8 2000.8,2678.4 2001.3,2649.2 2001.6,2592.1 2002,2764.9 2002.3,2674.9 2002.8,2513.6 2003,2617.2 2003.4,2643.8 2003.6,2694.5 2004.1,2739.3 2004.5,2569 2004.8,2752.2 2005.1,2524.8 2005.5,2543 2005.8,2618 2006.1,2772.9 2006.4,2763.3 2006.7,2721.4 2006.9,2735.3 2007.4,2516.9 2007.8,2762.7 2008,2808 2008.1,2602.1 2008.4,2703.5 2008.8,2459.5 2009,2649.6 2009.4,2669.9 2009.8,2781.6 2010.2,2483.1 2010.5,2513.5 2010.9,2649.9 2011.2,2711.5 2011.6,2659.9 2012,2354 2012,2737.8 2012.4,2682 2012.8,2675.4 2013.2,2508 2013.7,2701 2014,2418.7 2014.3,2725.2 2014.6,2557 2014.8,2728.9 2015.1,2670 2015.5,2601 2015.8,2705.4 2016.3,2722.1 2016.7,2626.2 2017,2563.5 2017.3,2605.9 2017.8,2557.8 2018.1,2671.4 2018.6,2532.7 2018.9,2409.1 2019.1,2418.2 2019.6,2478.2 2019.9,2421.3 2020.2,2719.1 2020.5,2583.9 2020.8,2725 2021.1,2684.6 2021.4,2677.4 2021.7,2493.7 2022.1,2602.3 2022.3,2631.9 2022.6,2644.6 2022.9,2420.4 2023.2,2645.3 2023.7,2582.9 2024.1,2497.7 2024.6,2699.7 2024.9,2464.9 2025.3,2466.1 2025.5,2755.4 2025.7,2689.6 2026,2714 2026.3,2600.5 2026.6,2470.4 2027.1,2434.7 2027.5,2443.2 2027.9,2457.6 2028.2,2438.5 2028.4,2560.3 2028.8,2776.1 2029.2,2703.6 2029.6,2434.5 2030,2437.4 2030,2808 2030.2,2748.7 2030.6,2522.9 2030.9,2650.7 2031.2,2520.2 2031.4,2573.9 2031.8,2496.9 2032,2647.9 2032.3,2580.3 2032.7,2534 2033,2552.9 2033.4,2356.3 2033.8,2547.6 2034,2448.8 2034.2,2539.6 2034.5,2527.3 2034.7,2545 2035.1,2329.1 2035.3,2338.3 2035.7,2309.1 2036.1,2481.7 2036.5,2514.9 2036.9,2339.3 2037.1,2498.9 2037.6,2435.8 2037.8,2449.9 2038.1,2514.5 2038.5,2437.2 2038.9,2366.4 2039.3,2310.8 2039.7,2440.3 2040.1,2471.6 2040.3,2340.8 2040.8,2278.9 2041,2330.8 2041.4,2312.9 2041.7,2384.6 2042.1,2458.7 2042.4,2459.5 2042.7,2409.8 2043.1,2453.9 2043.6,2327.1 2043.9,2432.3 2044.2,2244 2044.5,2399.7 2044.7,2272.9 2044.9,2267.3 2045.2,2253.3 2045.5,2140.8 2045.7,2183.5 2046.1,2108.8 2046.5,2200.7 2046.8,2298.6 2047.1,2325.6 2047.5,2215.1 2047.8,2018.7 2048.2,2143.3 2048.6,2303.7 2049,2292.2 2049.4,2159.8 2049.6,2220 2050.1,2013.1 2050.4,2239.8 2050.7,2146.1 2050.9,2130.1 2051.3,2157.5 2051.7,2178.7 2052,1913 2052.1,2218.1 2052.5,2163.6 2052.8,2209.6 2053.1,2234.4 2053.3,2224.4 2053.6,2319 2053.9,2309.7 2054.2,1977 2054.6,2127 2054.9,2016.4 2055.2,2340.9 2055.4,2042.3 2055.6,2134.9 2056,2265 2056.5,2178.6 2056.8,2411.8 2057.1,2690.1 2057.4,2361.3 2057.8,2847.3 2058,3018 2058.2,2712.4 2058.5,2902.6 2058.8,2929.9 2059.3,2767.2 2059.7,2612.1 2060.1,2338 2060.3,2735.6 2060.7,2267.7 2061,2416.7 2061.2,2506.4 2061.6,2323.5 2061.9,2414.7 2062.2,2487.9 2062.4,2443 2062.8,2142.5 2063.1,2181.6 2063.3,2265.5 2063.8,2180.7 2064.2,2126.3 2064.6,2449.8 2065,2181 2065.4,2226.7 2065.9,2444.6 2066.3,2063.1 2066.6,2385.1 2067,2297.3 2067.2,2111.8 2067.5,2237.4 2067.9,2007.5 2068.2,2233.8 2068.6,2186 2068.9,2436.8 2069.3,2223.4 2069.6,2147.2 2069.8,2268.5 2070.2,2356.5 2070.5,2158.8 2070.9,2483 2071.1,2454.1 2071.4,2520.9 2071.6,1971.7 2072,2574.8 2072,1943 2072.3,2183.8 2072.7,2387.8 2072.9,2161.3 2073.2,2201.7 2073.6,2237.6 2073.9,2204.2 2074.1,2372.5 2074.6,2522.2 2075,2582.8 2075.2,2588.7 2075.7,2249.1 2076.1,2398.5 2076.4,1996.6 2076.8,2408.2 2077.1,2578.9 2077.4,2578.3 2077.7,2372.8 2078.1,2237.9 2078.3,2579.9 2078.6,2133 2078.9,2234.2 2079.2,2142.6 2079.6,2269 2079.9,2564.7 2080.2,2565.3 2080.5,2604.9 2080.9,2110.9 2081.3,2601 2081.6,2152.1 2082,2062.6 2082.3,2358.9 2082.8,2622.9 2083.1,2319.9 2083.4,2425.1 2083.8,2652.5 2084,2583 2084.2,2462.3 2084.6,2105 2084.9,2550.2 2085.2,2251.7 2085.6,2610.1 2085.9,2206.8 2086.2,2191.4 2086.5,2026.2 2086.7,2490.6 2087,2650.3 2087.4,2471.4 2087.8,2170.8 2088,2010 2088,2010 2088,2679 2088,2438.9 2088.4,2628.3 2088.8,2556 2089.2,2361.8 2089.4,2260.6 2089.6,2130.9 2090,2618.6 2090.2,2538.9 2090.6,2534.8 2091,2593.7 2091.2,2569.7 2091.6,2260.5 2091.9,2436.9 2092.3,2258.3 2092.5,2551.2 2092.9,2595.9 2093.3,2561.5 2093.7,2454.4 2094,2520.8 2094.4,2598 2094.8,2379 2095,2473.9 2095.4,2451.3 2095.7,2539.5 2095.9,2361.5 2096.3,2385.1 2096.6,2329.7 2097,2377.2 2097.3,2478.9 2097.7,2405.8 2098,2607.2 2098.5,2605.4 2098.7,2550.2 2099.1,2600.7 2099.5,2481.9 2099.9,2578.2 2100.2,2472.6 2100.5,2579.5 2100.8,2488 2101,2573 2101.2,2528.1 2101.5,2530.6 2101.7,2461.3 2102,2533.3 2102.5,2614.7 2102.9,2485.3 2103.2,2563.6 2103.7,2485 2104,2687.9 2104.3,2609.7 2104.7,2724.9 2104.9,2495.7 2105.3,2685.2 2105.6,2716.7 2106,2503.5 2106.5,2701.5 2106.7,2710.4 2107.1,2696.7 2107.4,2738.7 2107.9,2509.9 2108.2,2697.2 2108.6,2564.6 2109.1,2717.8 2109.4,2597.1 2109.7,2664.2 2110,2712.6 2110.4,2764.2 2110.9,2740.6 2111.3,2752.8 2111.6,2769.5 2112,2775.2 2112.5,2744.5 2112.7,2769.5 2113.1,2787 2113.5,2591.3 2113.9,2580 2114.3,2759 2114.7,2617.7 2115,2742.6 2115,2400 2115.3,2791.6 2115.7,2547.8 2116,2437.3 2116.3,2525.9 2116.5,2765.5 2116.8,2590.4 2117.1,2770.1 2117.4,2643.1 2117.7,2644.6 2118.2,2804.6 2118.4,2576.2 2118.7,2781.3 2119.1,2622.3 2119.4,2715.4 2119.8,2816 2120.1,2536.3 2120.3,2528.6 2120.7,2791.4 2121,2563.2 2121.2,2521.9 2121.6,2575.1 2121.8,2548.7 2122.1,2519.9 2122.5,2828.7 2122.8,2507.9 2123,2741 2123.4,2530.1 2123.8,2799.5 2124.1,2746.8 2124.4,2600.8 2124.8,2695.9 2125.1,2833.7 2125.4,2686.8 2125.7,2763.1 2126,2666.4 2126.3,2845.2 2126.6,2572.8 2126.9,2617.1 2127.4,2795 2127.8,2647.7 2128.2,2638.4 2128.5,2553 2128.7,2761.4 2129.1,2577.5 2129.4,2647.7 2129.7,2827.2 2130,2872 2130.2,2869.2 2130.5,2562.1 2130.7,2869.8 2130.9,2853.4 2131.2,2851.5 2131.6,2836.8 2131.8,2846.9 2132.2,2585.5 2132.6,2864.1 2132.8,2828.8 2133.1,2851.4 2133.3,2525.4 2133.7,2693.1 2134,2855.5 2134.4,2679.2 2134.8,2612.1 2135,2530.1 2135.5,2715.9 2135.8,2664.1 2136.1,2652.4 2136.4,2831.9 2136.8,2703 2137.2,2612.5 2137.6,2715.2 2137.9,2493.6 2138.3,2575.4 2138.7,2581.3 2139,2739.7 2139.4,2770.3 2139.7,2529.4 2140.1,2538 2140.5,2694.7 2140.8,2537.6 2141.3,2497 2141.6,2477.1 2141.9,2493.1 2142.3,2584.6 2142.6,2709.2 2142.9,2653.9 2143.2,2828.5 2143.4,2513.4 2143.7,2642.9 2144,2515.2 2144.2,2509.1 2144.5,2598.6 2144.8,2578 2145.3,2593.7 2145.7,2446.5 2146,2657.1 2146.4,2504.1 2146.7,2740.4 2147.1,2347.6 2147.5,2435 2147.8,2326.7 2148.2,2694.8 2148.6,2663.9 2149,2549.5 2149.2,2498.6 2149.5,2305.2 2149.7,2260.7 2150.1,2536.8 2150.3,2366.5 2150.7,2461.9 2151.1,2478.2 2151.3,2225.9 2151.6,2563.5 2151.8,2247.4 2152.2,2327.5 2152.4,2445.8 2152.7,2605.6 2152.9,2619.8 2153.3,2537.7 2153.7,2367.3 2154,2451.6 2154.3,2573.5 2154.6,2498.1 2154.9,2317.2 2155.1,2435.7 2155.4,2533.9 2155.8,2310.2 2156.2,2394.6 2156.5,2440.1 2156.7,2446.5 2157,2100 2157.1,2118.5 2157.4,2355 2157.7,2532.5 2158,2357.7 2158.5,2691.5 2158.9,2353.1 2159.3,2811 2159.7,2556.1 2160,2999 2160,2801.7 2160.3,2834.1 2160.5,2538.9 2160.8,2878.5 2161,2419.1 2161.5,2571.7 2161.8,2810.2 2162.2,2376.2 2162.5,2786 2162.9,2383.7 2163.3,2483.4 2163.5,2478 2163.8,2696.9" fill="none" stroke="#B177DE" stroke-width="4.6" stroke-linejoin="round"/>
</svg>
</body></html>
